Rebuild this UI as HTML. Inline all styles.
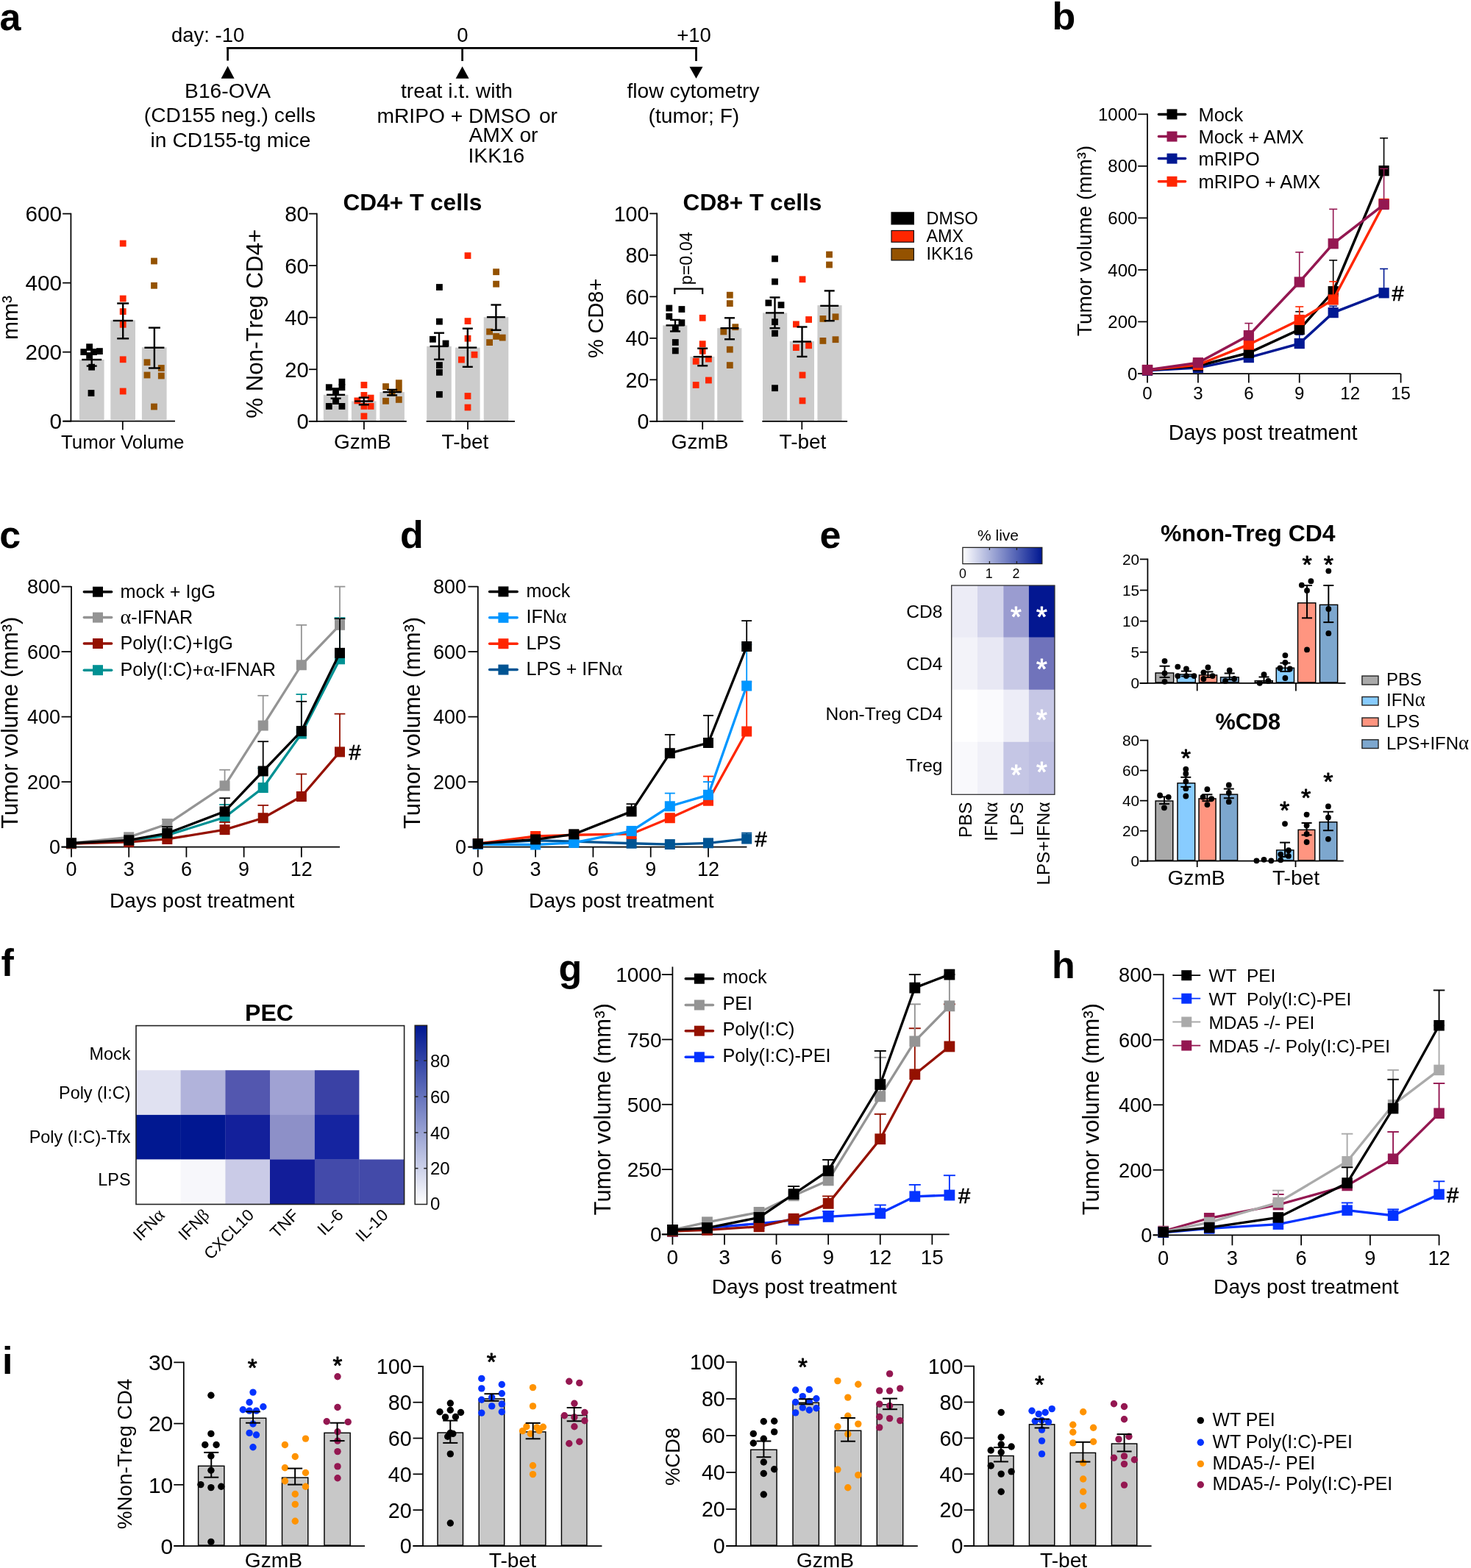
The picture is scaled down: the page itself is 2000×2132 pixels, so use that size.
<!DOCTYPE html>
<html><head><meta charset="utf-8"><title>Figure</title>
<style>
html,body{margin:0;padding:0;background:#fff;}
body{width:2000px;height:2132px;overflow:hidden;}
svg{display:block;}
text{font-family:'Liberation Sans', Arial, Helvetica, sans-serif;}
</style></head>
<body>
<svg width="2000" height="2132" viewBox="0 0 2000 2132">
<rect x="0" y="0" width="2000" height="2132" fill="#fff"/>
<text x="-0.5" y="40.5" font-size="52" font-weight="bold">a</text>
<text x="1430.6" y="39.9" font-size="52" font-weight="bold">b</text>
<text x="-0.8" y="745.2" font-size="52" font-weight="bold">c</text>
<text x="544" y="745.4" font-size="52" font-weight="bold">d</text>
<text x="1114.4" y="745.4" font-size="52" font-weight="bold">e</text>
<text x="1.6" y="1327" font-size="52" font-weight="bold">f</text>
<text x="759.4" y="1334.4" font-size="52" font-weight="bold">g</text>
<text x="1429.9" y="1330.4" font-size="52" font-weight="bold">h</text>
<text x="3" y="1868" font-size="52" font-weight="bold">i</text>
<text x="233" y="56.8" font-size="27.5">day: -10</text>
<text x="629" y="56.5" font-size="27.5" text-anchor="middle">0</text>
<text x="943.5" y="56.5" font-size="27.5" text-anchor="middle">+10</text>
<line x1="308.3" y1="65.3" x2="947.8" y2="65.3" stroke="#000" stroke-width="2.7"/>
<line x1="309.6" y1="64" x2="309.6" y2="82.5" stroke="#000" stroke-width="2.7"/>
<line x1="628.6" y1="64" x2="628.6" y2="83" stroke="#000" stroke-width="2.7"/>
<line x1="946.5" y1="64" x2="946.5" y2="83" stroke="#000" stroke-width="2.7"/>
<polygon points="300.6,106.7 318.6,106.7 309.6,89.8" fill="#000"/>
<polygon points="619.6,106.8 637.6,106.8 628.6,90.3" fill="#000"/>
<polygon points="937.5,90.7 955.5,90.7 946.5,106.8" fill="#000"/>
<text x="309.6" y="132.7" font-size="28.2" text-anchor="middle">B16-OVA</text>
<text x="312.5" y="166.2" font-size="28.2" text-anchor="middle">(CD155 neg.) cells</text>
<text x="313.5" y="199.7" font-size="28.2" text-anchor="middle">in CD155-tg mice</text>
<text x="621" y="132.6" font-size="28.2" text-anchor="middle">treat i.t. with</text>
<text x="512.5" y="166.7" font-size="28.2">mRIPO + DMSO</text>
<text x="758" y="166.7" font-size="28.2" text-anchor="end">or</text>
<text x="637.5" y="193.2" font-size="28.2">AMX or</text>
<text x="636.5" y="221.4" font-size="28.2">IKK16</text>
<text x="942.5" y="132.6" font-size="28.2" text-anchor="middle">flow cytometry</text>
<text x="943.4" y="166.7" font-size="28.2" text-anchor="middle">(tumor; F)</text>
<line x1="96.4" y1="289.73" x2="96.4" y2="573.58" stroke="#000" stroke-width="1.75"/>
<line x1="85.1" y1="572.7" x2="96.4" y2="572.7" stroke="#000" stroke-width="1.75"/>
<text x="84.07" y="583.39" font-size="29.7" text-anchor="end">0</text>
<line x1="85.1" y1="478.67" x2="96.4" y2="478.67" stroke="#000" stroke-width="1.75"/>
<text x="84.07" y="489.36" font-size="29.7" text-anchor="end">200</text>
<line x1="85.1" y1="384.63" x2="96.4" y2="384.63" stroke="#000" stroke-width="1.75"/>
<text x="84.07" y="395.33" font-size="29.7" text-anchor="end">400</text>
<line x1="85.1" y1="290.6" x2="96.4" y2="290.6" stroke="#000" stroke-width="1.75"/>
<text x="84.07" y="301.29" font-size="29.7" text-anchor="end">600</text>
<line x1="85.7" y1="572.7" x2="238" y2="572.7" stroke="#000" stroke-width="1.75"/>
<line x1="166.8" y1="572.7" x2="166.8" y2="584.5" stroke="#000" stroke-width="1.75"/>
<text x="166.7" y="610" font-size="25.9" text-anchor="middle">Tumor Volume</text>
<text x="23.5" y="432" font-size="30" text-anchor="middle" transform="rotate(-90 23.5 432)">mm³</text>
<rect x="107.9" y="489" width="33.7" height="82.83" fill="#CCCCCC"/>
<rect x="150.3" y="435.4" width="33.7" height="136.43" fill="#CCCCCC"/>
<rect x="192.9" y="472.3" width="33.7" height="99.53" fill="#CCCCCC"/>
<rect x="119.6" y="530.1" width="8.8" height="8.8" fill="#000000"/>
<rect x="117.2" y="467.3" width="8.8" height="8.8" fill="#000000"/>
<rect x="109.4" y="474.2" width="8.8" height="8.8" fill="#000000"/>
<rect x="131" y="473.2" width="8.8" height="8.8" fill="#000000"/>
<rect x="123.1" y="474.2" width="8.8" height="8.8" fill="#000000"/>
<rect x="120.2" y="494.8" width="8.8" height="8.8" fill="#000000"/>
<rect x="117.2" y="479.1" width="8.8" height="8.8" fill="#000000"/>
<rect x="162.8" y="326.6" width="8.8" height="8.8" fill="#FF2600"/>
<rect x="162.8" y="401.6" width="8.8" height="8.8" fill="#FF2600"/>
<rect x="162.8" y="419.2" width="8.8" height="8.8" fill="#FF2600"/>
<rect x="162.8" y="436.9" width="8.8" height="8.8" fill="#FF2600"/>
<rect x="162.8" y="484.4" width="8.8" height="8.8" fill="#FF2600"/>
<rect x="162.8" y="527.6" width="8.8" height="8.8" fill="#FF2600"/>
<rect x="205.1" y="350.6" width="8.8" height="8.8" fill="#945200"/>
<rect x="205.1" y="383.9" width="8.8" height="8.8" fill="#945200"/>
<rect x="195.6" y="488.3" width="8.8" height="8.8" fill="#945200"/>
<rect x="214.9" y="496.1" width="8.8" height="8.8" fill="#945200"/>
<rect x="195.6" y="505.6" width="8.8" height="8.8" fill="#945200"/>
<rect x="214.9" y="506.6" width="8.8" height="8.8" fill="#945200"/>
<rect x="205.1" y="548.6" width="8.8" height="8.8" fill="#945200"/>
<line x1="124.7" y1="475.6" x2="124.7" y2="497.6" stroke="#000" stroke-width="2.4"/>
<line x1="117.7" y1="475.6" x2="131.7" y2="475.6" stroke="#000" stroke-width="2.4"/>
<line x1="117.7" y1="497.6" x2="131.7" y2="497.6" stroke="#000" stroke-width="2.4"/>
<line x1="111.2" y1="489" x2="138.2" y2="489" stroke="#000" stroke-width="2.4"/>
<line x1="167.2" y1="412.5" x2="167.2" y2="460.3" stroke="#000" stroke-width="2.4"/>
<line x1="159.2" y1="412.5" x2="175.2" y2="412.5" stroke="#000" stroke-width="2.4"/>
<line x1="159.2" y1="460.3" x2="175.2" y2="460.3" stroke="#000" stroke-width="2.4"/>
<line x1="153.7" y1="436" x2="180.7" y2="436" stroke="#000" stroke-width="2.4"/>
<line x1="209.9" y1="445.6" x2="209.9" y2="500.5" stroke="#000" stroke-width="2.4"/>
<line x1="201.9" y1="445.6" x2="217.9" y2="445.6" stroke="#000" stroke-width="2.4"/>
<line x1="201.9" y1="500.5" x2="217.9" y2="500.5" stroke="#000" stroke-width="2.4"/>
<line x1="196.4" y1="472.7" x2="223.4" y2="472.7" stroke="#000" stroke-width="2.4"/>
<line x1="430.8" y1="289.73" x2="430.8" y2="573.67" stroke="#000" stroke-width="1.75"/>
<line x1="420.1" y1="572.8" x2="430.8" y2="572.8" stroke="#000" stroke-width="1.75"/>
<text x="419.64" y="583.31" font-size="29.2" text-anchor="end">0</text>
<line x1="420.1" y1="502.25" x2="430.8" y2="502.25" stroke="#000" stroke-width="1.75"/>
<text x="419.64" y="512.76" font-size="29.2" text-anchor="end">20</text>
<line x1="420.1" y1="431.7" x2="430.8" y2="431.7" stroke="#000" stroke-width="1.75"/>
<text x="419.64" y="442.21" font-size="29.2" text-anchor="end">40</text>
<line x1="420.1" y1="361.15" x2="430.8" y2="361.15" stroke="#000" stroke-width="1.75"/>
<text x="419.64" y="371.66" font-size="29.2" text-anchor="end">60</text>
<line x1="420.1" y1="290.6" x2="430.8" y2="290.6" stroke="#000" stroke-width="1.75"/>
<text x="419.64" y="301.11" font-size="29.2" text-anchor="end">80</text>
<line x1="419.8" y1="572.8" x2="552.8" y2="572.8" stroke="#000" stroke-width="1.75"/>
<line x1="579.6" y1="572.8" x2="700" y2="572.8" stroke="#000" stroke-width="1.75"/>
<line x1="494.9" y1="572.8" x2="494.9" y2="584" stroke="#000" stroke-width="1.75"/>
<line x1="636" y1="572.8" x2="636" y2="584" stroke="#000" stroke-width="1.75"/>
<text x="492.9" y="610.3" font-size="28" text-anchor="middle">GzmB</text>
<text x="632.5" y="610.3" font-size="28" text-anchor="middle">T-bet</text>
<text x="560.9" y="286" font-size="31.6" text-anchor="middle" font-weight="bold">CD4+ T cells</text>
<text x="357" y="440.2" font-size="31.3" text-anchor="middle" transform="rotate(-90 357 440.2)">% Non-Treg CD4+</text>
<rect x="439.8" y="536.8" width="33.6" height="35.12" fill="#CCCCCC"/>
<rect x="477.9" y="545.5" width="33.6" height="26.42" fill="#CCCCCC"/>
<rect x="516.3" y="533.1" width="33.6" height="38.82" fill="#CCCCCC"/>
<rect x="580.2" y="470.9" width="33.6" height="101.02" fill="#CCCCCC"/>
<rect x="619" y="472.6" width="33.6" height="99.32" fill="#CCCCCC"/>
<rect x="657.7" y="431.2" width="33.6" height="140.72" fill="#CCCCCC"/>
<rect x="442.9" y="522.3" width="8.8" height="8.8" fill="#000000"/>
<rect x="460.5" y="514.8" width="8.8" height="8.8" fill="#000000"/>
<rect x="460.5" y="522.3" width="8.8" height="8.8" fill="#000000"/>
<rect x="452.1" y="527.2" width="8.8" height="8.8" fill="#000000"/>
<rect x="452.1" y="541.2" width="8.8" height="8.8" fill="#000000"/>
<rect x="442.9" y="548" width="8.8" height="8.8" fill="#000000"/>
<rect x="460.5" y="548" width="8.8" height="8.8" fill="#000000"/>
<rect x="490.5" y="519.1" width="8.8" height="8.8" fill="#FF2600"/>
<rect x="490.5" y="533" width="8.8" height="8.8" fill="#FF2600"/>
<rect x="481.5" y="540.5" width="8.8" height="8.8" fill="#FF2600"/>
<rect x="499.7" y="536.7" width="8.8" height="8.8" fill="#FF2600"/>
<rect x="499.7" y="548" width="8.8" height="8.8" fill="#FF2600"/>
<rect x="490.5" y="548" width="8.8" height="8.8" fill="#FF2600"/>
<rect x="490.5" y="561.5" width="8.8" height="8.8" fill="#FF2600"/>
<rect x="520.1" y="521.2" width="8.8" height="8.8" fill="#945200"/>
<rect x="537.9" y="516.3" width="8.8" height="8.8" fill="#945200"/>
<rect x="537.9" y="524.9" width="8.8" height="8.8" fill="#945200"/>
<rect x="520.1" y="540.9" width="8.8" height="8.8" fill="#945200"/>
<rect x="537.9" y="539" width="8.8" height="8.8" fill="#945200"/>
<rect x="528.7" y="529.8" width="8.8" height="8.8" fill="#945200"/>
<rect x="593" y="386.1" width="8.8" height="8.8" fill="#000000"/>
<rect x="593" y="432.8" width="8.8" height="8.8" fill="#000000"/>
<rect x="584" y="456.9" width="8.8" height="8.8" fill="#000000"/>
<rect x="601.6" y="462.6" width="8.8" height="8.8" fill="#000000"/>
<rect x="593" y="492.2" width="8.8" height="8.8" fill="#000000"/>
<rect x="593" y="501.9" width="8.8" height="8.8" fill="#000000"/>
<rect x="593" y="531.9" width="8.8" height="8.8" fill="#000000"/>
<rect x="631.6" y="343.2" width="8.8" height="8.8" fill="#FF2600"/>
<rect x="631.6" y="432.2" width="8.8" height="8.8" fill="#FF2600"/>
<rect x="631.6" y="455.8" width="8.8" height="8.8" fill="#FF2600"/>
<rect x="640.6" y="477.9" width="8.8" height="8.8" fill="#FF2600"/>
<rect x="623" y="484.7" width="8.8" height="8.8" fill="#FF2600"/>
<rect x="631.6" y="534.1" width="8.8" height="8.8" fill="#FF2600"/>
<rect x="631.6" y="549.6" width="8.8" height="8.8" fill="#FF2600"/>
<rect x="670.2" y="365.3" width="8.8" height="8.8" fill="#945200"/>
<rect x="670.2" y="381.8" width="8.8" height="8.8" fill="#945200"/>
<rect x="661.2" y="446.6" width="8.8" height="8.8" fill="#945200"/>
<rect x="670.2" y="453" width="8.8" height="8.8" fill="#945200"/>
<rect x="678.8" y="454.7" width="8.8" height="8.8" fill="#945200"/>
<rect x="661.2" y="461.2" width="8.8" height="8.8" fill="#945200"/>
<line x1="456.6" y1="528.8" x2="456.6" y2="541.7" stroke="#000" stroke-width="2.4"/>
<line x1="449.6" y1="528.8" x2="463.6" y2="528.8" stroke="#000" stroke-width="2.4"/>
<line x1="449.6" y1="541.7" x2="463.6" y2="541.7" stroke="#000" stroke-width="2.4"/>
<line x1="444.1" y1="536.8" x2="469.1" y2="536.8" stroke="#000" stroke-width="2.4"/>
<line x1="494.7" y1="540.6" x2="494.7" y2="550.3" stroke="#000" stroke-width="2.4"/>
<line x1="487.7" y1="540.6" x2="501.7" y2="540.6" stroke="#000" stroke-width="2.4"/>
<line x1="487.7" y1="550.3" x2="501.7" y2="550.3" stroke="#000" stroke-width="2.4"/>
<line x1="482.2" y1="545.5" x2="507.2" y2="545.5" stroke="#000" stroke-width="2.4"/>
<line x1="533.1" y1="529.9" x2="533.1" y2="537.4" stroke="#000" stroke-width="2.4"/>
<line x1="526.1" y1="529.9" x2="540.1" y2="529.9" stroke="#000" stroke-width="2.4"/>
<line x1="526.1" y1="537.4" x2="540.1" y2="537.4" stroke="#000" stroke-width="2.4"/>
<line x1="520.6" y1="533.1" x2="545.6" y2="533.1" stroke="#000" stroke-width="2.4"/>
<line x1="597" y1="452.7" x2="597" y2="488.7" stroke="#000" stroke-width="2.4"/>
<line x1="590" y1="452.7" x2="604" y2="452.7" stroke="#000" stroke-width="2.4"/>
<line x1="590" y1="488.7" x2="604" y2="488.7" stroke="#000" stroke-width="2.4"/>
<line x1="584.5" y1="470.9" x2="609.5" y2="470.9" stroke="#000" stroke-width="2.4"/>
<line x1="635.8" y1="446.7" x2="635.8" y2="498.8" stroke="#000" stroke-width="2.4"/>
<line x1="628.8" y1="446.7" x2="642.8" y2="446.7" stroke="#000" stroke-width="2.4"/>
<line x1="628.8" y1="498.8" x2="642.8" y2="498.8" stroke="#000" stroke-width="2.4"/>
<line x1="623.3" y1="472.6" x2="648.3" y2="472.6" stroke="#000" stroke-width="2.4"/>
<line x1="674.4" y1="414.5" x2="674.4" y2="448.8" stroke="#000" stroke-width="2.4"/>
<line x1="667.4" y1="414.5" x2="681.4" y2="414.5" stroke="#000" stroke-width="2.4"/>
<line x1="667.4" y1="448.8" x2="681.4" y2="448.8" stroke="#000" stroke-width="2.4"/>
<line x1="661.9" y1="431.2" x2="686.9" y2="431.2" stroke="#000" stroke-width="2.4"/>
<line x1="893.2" y1="289.52" x2="893.2" y2="573.67" stroke="#000" stroke-width="1.75"/>
<line x1="883.2" y1="572.8" x2="893.2" y2="572.8" stroke="#000" stroke-width="1.75"/>
<text x="882.42" y="583.1" font-size="28.6" text-anchor="end">0</text>
<line x1="883.2" y1="516.32" x2="893.2" y2="516.32" stroke="#000" stroke-width="1.75"/>
<text x="882.42" y="526.62" font-size="28.6" text-anchor="end">20</text>
<line x1="883.2" y1="459.84" x2="893.2" y2="459.84" stroke="#000" stroke-width="1.75"/>
<text x="882.42" y="470.14" font-size="28.6" text-anchor="end">40</text>
<line x1="883.2" y1="403.36" x2="893.2" y2="403.36" stroke="#000" stroke-width="1.75"/>
<text x="882.42" y="413.66" font-size="28.6" text-anchor="end">60</text>
<line x1="883.2" y1="346.88" x2="893.2" y2="346.88" stroke="#000" stroke-width="1.75"/>
<text x="882.42" y="357.18" font-size="28.6" text-anchor="end">80</text>
<line x1="883.2" y1="290.4" x2="893.2" y2="290.4" stroke="#000" stroke-width="1.75"/>
<text x="882.42" y="300.7" font-size="28.6" text-anchor="end">100</text>
<line x1="883.6" y1="572.8" x2="1010.6" y2="572.8" stroke="#000" stroke-width="1.75"/>
<line x1="1036.3" y1="572.8" x2="1152.1" y2="572.8" stroke="#000" stroke-width="1.75"/>
<line x1="955.2" y1="572.8" x2="955.2" y2="584" stroke="#000" stroke-width="1.75"/>
<line x1="1090.3" y1="572.8" x2="1090.3" y2="584" stroke="#000" stroke-width="1.75"/>
<text x="951.5" y="610.3" font-size="28" text-anchor="middle">GzmB</text>
<text x="1091.5" y="610.3" font-size="28" text-anchor="middle">T-bet</text>
<text x="1023" y="286" font-size="31.6" text-anchor="middle" font-weight="bold">CD8+ T cells</text>
<text x="820.5" y="432.9" font-size="28.9" text-anchor="middle" transform="rotate(-90 820.5 432.9)">% CD8+</text>
<rect x="901.2" y="442.4" width="33.2" height="129.52" fill="#CCCCCC"/>
<rect x="938.3" y="484.9" width="33.2" height="87.02" fill="#CCCCCC"/>
<rect x="975.2" y="446.2" width="33.2" height="125.72" fill="#CCCCCC"/>
<rect x="1037" y="425.4" width="33.2" height="146.52" fill="#CCCCCC"/>
<rect x="1073.8" y="464" width="33.2" height="107.92" fill="#CCCCCC"/>
<rect x="1111.4" y="415.1" width="33.2" height="156.82" fill="#CCCCCC"/>
<rect x="905.4" y="414.6" width="8.8" height="8.8" fill="#000000"/>
<rect x="922.5" y="416.1" width="8.8" height="8.8" fill="#000000"/>
<rect x="905.4" y="425.8" width="8.8" height="8.8" fill="#000000"/>
<rect x="922.5" y="434.3" width="8.8" height="8.8" fill="#000000"/>
<rect x="913.9" y="441.8" width="8.8" height="8.8" fill="#000000"/>
<rect x="913.9" y="461.1" width="8.8" height="8.8" fill="#000000"/>
<rect x="913.9" y="472.5" width="8.8" height="8.8" fill="#000000"/>
<rect x="950.8" y="427.9" width="8.8" height="8.8" fill="#FF2600"/>
<rect x="950.8" y="463.3" width="8.8" height="8.8" fill="#FF2600"/>
<rect x="950.8" y="472.9" width="8.8" height="8.8" fill="#FF2600"/>
<rect x="941.8" y="486.9" width="8.8" height="8.8" fill="#FF2600"/>
<rect x="959" y="483.7" width="8.8" height="8.8" fill="#FF2600"/>
<rect x="941.8" y="519.1" width="8.8" height="8.8" fill="#FF2600"/>
<rect x="959" y="512.6" width="8.8" height="8.8" fill="#FF2600"/>
<rect x="987.9" y="396.8" width="8.8" height="8.8" fill="#945200"/>
<rect x="987.9" y="408.2" width="8.8" height="8.8" fill="#945200"/>
<rect x="995.4" y="440.3" width="8.8" height="8.8" fill="#945200"/>
<rect x="979.4" y="446.6" width="8.8" height="8.8" fill="#945200"/>
<rect x="987.9" y="470.8" width="8.8" height="8.8" fill="#945200"/>
<rect x="987.9" y="492.2" width="8.8" height="8.8" fill="#945200"/>
<rect x="1049.1" y="347.5" width="8.8" height="8.8" fill="#000000"/>
<rect x="1049.1" y="378.6" width="8.8" height="8.8" fill="#000000"/>
<rect x="1040.5" y="407.5" width="8.8" height="8.8" fill="#000000"/>
<rect x="1057.6" y="410.3" width="8.8" height="8.8" fill="#000000"/>
<rect x="1049.1" y="433.3" width="8.8" height="8.8" fill="#000000"/>
<rect x="1049.1" y="448.9" width="8.8" height="8.8" fill="#000000"/>
<rect x="1049.1" y="523.3" width="8.8" height="8.8" fill="#000000"/>
<rect x="1086.6" y="375.4" width="8.8" height="8.8" fill="#FF2600"/>
<rect x="1078" y="436.5" width="8.8" height="8.8" fill="#FF2600"/>
<rect x="1095.2" y="430.1" width="8.8" height="8.8" fill="#FF2600"/>
<rect x="1078" y="468.2" width="8.8" height="8.8" fill="#FF2600"/>
<rect x="1095.2" y="465.4" width="8.8" height="8.8" fill="#FF2600"/>
<rect x="1086.6" y="505.6" width="8.8" height="8.8" fill="#FF2600"/>
<rect x="1086.6" y="540.5" width="8.8" height="8.8" fill="#FF2600"/>
<rect x="1123.1" y="341.7" width="8.8" height="8.8" fill="#945200"/>
<rect x="1123.1" y="355.6" width="8.8" height="8.8" fill="#945200"/>
<rect x="1114.5" y="429" width="8.8" height="8.8" fill="#945200"/>
<rect x="1131.6" y="426.4" width="8.8" height="8.8" fill="#945200"/>
<rect x="1114.5" y="459" width="8.8" height="8.8" fill="#945200"/>
<rect x="1131.6" y="457.3" width="8.8" height="8.8" fill="#945200"/>
<line x1="918" y1="434.9" x2="918" y2="450.5" stroke="#000" stroke-width="2.4"/>
<line x1="911" y1="434.9" x2="925" y2="434.9" stroke="#000" stroke-width="2.4"/>
<line x1="911" y1="450.5" x2="925" y2="450.5" stroke="#000" stroke-width="2.4"/>
<line x1="905.5" y1="442.4" x2="930.5" y2="442.4" stroke="#000" stroke-width="2.4"/>
<line x1="955.2" y1="473.7" x2="955.2" y2="497.3" stroke="#000" stroke-width="2.4"/>
<line x1="948.2" y1="473.7" x2="962.2" y2="473.7" stroke="#000" stroke-width="2.4"/>
<line x1="948.2" y1="497.3" x2="962.2" y2="497.3" stroke="#000" stroke-width="2.4"/>
<line x1="942.7" y1="485.1" x2="967.7" y2="485.1" stroke="#000" stroke-width="2.4"/>
<line x1="992" y1="432.3" x2="992" y2="461.3" stroke="#000" stroke-width="2.4"/>
<line x1="985" y1="432.3" x2="999" y2="432.3" stroke="#000" stroke-width="2.4"/>
<line x1="985" y1="461.3" x2="999" y2="461.3" stroke="#000" stroke-width="2.4"/>
<line x1="979.5" y1="446.2" x2="1004.5" y2="446.2" stroke="#000" stroke-width="2.4"/>
<line x1="1053.5" y1="404.4" x2="1053.5" y2="446.2" stroke="#000" stroke-width="2.4"/>
<line x1="1046.5" y1="404.4" x2="1060.5" y2="404.4" stroke="#000" stroke-width="2.4"/>
<line x1="1046.5" y1="446.2" x2="1060.5" y2="446.2" stroke="#000" stroke-width="2.4"/>
<line x1="1041" y1="425.4" x2="1066" y2="425.4" stroke="#000" stroke-width="2.4"/>
<line x1="1090.5" y1="444.5" x2="1090.5" y2="484.9" stroke="#000" stroke-width="2.4"/>
<line x1="1083.5" y1="444.5" x2="1097.5" y2="444.5" stroke="#000" stroke-width="2.4"/>
<line x1="1083.5" y1="484.9" x2="1097.5" y2="484.9" stroke="#000" stroke-width="2.4"/>
<line x1="1078" y1="464.5" x2="1103" y2="464.5" stroke="#000" stroke-width="2.4"/>
<line x1="1127.7" y1="395.4" x2="1127.7" y2="436.2" stroke="#000" stroke-width="2.4"/>
<line x1="1120.7" y1="395.4" x2="1134.7" y2="395.4" stroke="#000" stroke-width="2.4"/>
<line x1="1120.7" y1="436.2" x2="1134.7" y2="436.2" stroke="#000" stroke-width="2.4"/>
<line x1="1115.2" y1="415.8" x2="1140.2" y2="415.8" stroke="#000" stroke-width="2.4"/>
<polyline points="917.3,400 917.3,392.6 955.2,392.6 955.2,400" fill="none" stroke="#000" stroke-width="2.2" stroke-linejoin="miter"/>
<text x="941" y="351.3" font-size="23.3" text-anchor="middle" transform="rotate(-90 941 351.3)">p=0.04</text>
<rect x="1212" y="288.8" width="30.4" height="16.2" fill="#000000" stroke="#111" stroke-width="1.2"/>
<rect x="1212" y="313.5" width="30.4" height="15.7" fill="#FF2600" stroke="#111" stroke-width="1.2"/>
<rect x="1212" y="337.8" width="30.4" height="16.1" fill="#945200" stroke="#111" stroke-width="1.2"/>
<text x="1259.5" y="304.9" font-size="23.4">DMSO</text>
<text x="1259.5" y="329.2" font-size="23.4">AMX</text>
<text x="1259.5" y="353.4" font-size="23.4">IKK16</text>
<line x1="1560" y1="154.43" x2="1560" y2="508.88" stroke="#000" stroke-width="1.75"/>
<line x1="1547.2" y1="508" x2="1560" y2="508" stroke="#000" stroke-width="1.75"/>
<text x="1546.4" y="516.64" font-size="24" text-anchor="end">0</text>
<line x1="1547.2" y1="437.46" x2="1560" y2="437.46" stroke="#000" stroke-width="1.75"/>
<text x="1546.4" y="446.1" font-size="24" text-anchor="end">200</text>
<line x1="1547.2" y1="366.92" x2="1560" y2="366.92" stroke="#000" stroke-width="1.75"/>
<text x="1546.4" y="375.56" font-size="24" text-anchor="end">400</text>
<line x1="1547.2" y1="296.38" x2="1560" y2="296.38" stroke="#000" stroke-width="1.75"/>
<text x="1546.4" y="305.02" font-size="24" text-anchor="end">600</text>
<line x1="1547.2" y1="225.84" x2="1560" y2="225.84" stroke="#000" stroke-width="1.75"/>
<text x="1546.4" y="234.48" font-size="24" text-anchor="end">800</text>
<line x1="1547.2" y1="155.3" x2="1560" y2="155.3" stroke="#000" stroke-width="1.75"/>
<text x="1546.4" y="163.94" font-size="24" text-anchor="end">1000</text>
<line x1="1547.2" y1="508" x2="1904.5" y2="508" stroke="#000" stroke-width="1.75"/>
<line x1="1560" y1="508" x2="1560" y2="520.5" stroke="#000" stroke-width="1.75"/>
<text x="1560" y="543.28" font-size="24" text-anchor="middle">0</text>
<line x1="1628.91" y1="508" x2="1628.91" y2="520.5" stroke="#000" stroke-width="1.75"/>
<text x="1628.91" y="543.28" font-size="24" text-anchor="middle">3</text>
<line x1="1697.82" y1="508" x2="1697.82" y2="520.5" stroke="#000" stroke-width="1.75"/>
<text x="1697.82" y="543.28" font-size="24" text-anchor="middle">6</text>
<line x1="1766.73" y1="508" x2="1766.73" y2="520.5" stroke="#000" stroke-width="1.75"/>
<text x="1766.73" y="543.28" font-size="24" text-anchor="middle">9</text>
<line x1="1835.64" y1="508" x2="1835.64" y2="520.5" stroke="#000" stroke-width="1.75"/>
<text x="1835.64" y="543.28" font-size="24" text-anchor="middle">12</text>
<line x1="1904.55" y1="508" x2="1904.55" y2="520.5" stroke="#000" stroke-width="1.75"/>
<text x="1904.55" y="543.28" font-size="24" text-anchor="middle">15</text>
<line x1="1766.73" y1="455.1" x2="1766.73" y2="467.09" stroke="#011993" stroke-width="1.6"/>
<line x1="1761.23" y1="455.1" x2="1772.23" y2="455.1" stroke="#011993" stroke-width="1.6"/>
<line x1="1812.67" y1="416.3" x2="1812.67" y2="425.12" stroke="#011993" stroke-width="1.6"/>
<line x1="1807.17" y1="416.3" x2="1818.17" y2="416.3" stroke="#011993" stroke-width="1.6"/>
<line x1="1881.58" y1="365.51" x2="1881.58" y2="398.31" stroke="#011993" stroke-width="1.6"/>
<line x1="1876.08" y1="365.51" x2="1887.08" y2="365.51" stroke="#011993" stroke-width="1.6"/>
<polyline points="1560,503.77 1628.91,499.89 1697.82,486.13 1766.73,467.09 1812.67,425.12 1881.58,398.31" fill="none" stroke="#011993" stroke-width="3.5" stroke-linejoin="miter"/>
<rect x="1552.9" y="496.67" width="14.2" height="14.2" fill="#011993"/>
<rect x="1621.81" y="492.79" width="14.2" height="14.2" fill="#011993"/>
<rect x="1690.72" y="479.03" width="14.2" height="14.2" fill="#011993"/>
<rect x="1759.63" y="459.99" width="14.2" height="14.2" fill="#011993"/>
<rect x="1805.57" y="418.02" width="14.2" height="14.2" fill="#011993"/>
<rect x="1874.48" y="391.21" width="14.2" height="14.2" fill="#011993"/>
<line x1="1766.73" y1="423.7" x2="1766.73" y2="448.04" stroke="#000000" stroke-width="1.6"/>
<line x1="1761.23" y1="423.7" x2="1772.23" y2="423.7" stroke="#000000" stroke-width="1.6"/>
<line x1="1812.67" y1="353.87" x2="1812.67" y2="396.19" stroke="#000000" stroke-width="1.6"/>
<line x1="1807.17" y1="353.87" x2="1818.17" y2="353.87" stroke="#000000" stroke-width="1.6"/>
<line x1="1881.58" y1="187.75" x2="1881.58" y2="232.19" stroke="#000000" stroke-width="1.6"/>
<line x1="1876.08" y1="187.75" x2="1887.08" y2="187.75" stroke="#000000" stroke-width="1.6"/>
<polyline points="1560,503.06 1628.91,497.42 1697.82,479.78 1766.73,448.04 1812.67,396.19 1881.58,232.19" fill="none" stroke="#000000" stroke-width="3.5" stroke-linejoin="miter"/>
<rect x="1552.9" y="495.96" width="14.2" height="14.2" fill="#000000"/>
<rect x="1621.81" y="490.32" width="14.2" height="14.2" fill="#000000"/>
<rect x="1690.72" y="472.68" width="14.2" height="14.2" fill="#000000"/>
<rect x="1759.63" y="440.94" width="14.2" height="14.2" fill="#000000"/>
<rect x="1805.57" y="389.09" width="14.2" height="14.2" fill="#000000"/>
<rect x="1874.48" y="225.09" width="14.2" height="14.2" fill="#000000"/>
<line x1="1766.73" y1="417" x2="1766.73" y2="434.99" stroke="#FF2600" stroke-width="1.6"/>
<line x1="1761.23" y1="417" x2="1772.23" y2="417" stroke="#FF2600" stroke-width="1.6"/>
<line x1="1812.67" y1="382.79" x2="1812.67" y2="407.48" stroke="#FF2600" stroke-width="1.6"/>
<line x1="1807.17" y1="382.79" x2="1818.17" y2="382.79" stroke="#FF2600" stroke-width="1.6"/>
<polyline points="1560,503.06 1628.91,496.01 1697.82,468.5 1766.73,434.99 1812.67,407.48 1881.58,276.98" fill="none" stroke="#FF2600" stroke-width="3.5" stroke-linejoin="miter"/>
<rect x="1552.9" y="495.96" width="14.2" height="14.2" fill="#FF2600"/>
<rect x="1621.81" y="488.91" width="14.2" height="14.2" fill="#FF2600"/>
<rect x="1690.72" y="461.4" width="14.2" height="14.2" fill="#FF2600"/>
<rect x="1759.63" y="427.89" width="14.2" height="14.2" fill="#FF2600"/>
<rect x="1805.57" y="400.38" width="14.2" height="14.2" fill="#FF2600"/>
<rect x="1874.48" y="269.88" width="14.2" height="14.2" fill="#FF2600"/>
<line x1="1628.91" y1="487.9" x2="1628.91" y2="493.19" stroke="#941751" stroke-width="1.6"/>
<line x1="1623.41" y1="487.9" x2="1634.41" y2="487.9" stroke="#941751" stroke-width="1.6"/>
<line x1="1697.82" y1="439.58" x2="1697.82" y2="456.15" stroke="#941751" stroke-width="1.6"/>
<line x1="1692.32" y1="439.58" x2="1703.32" y2="439.58" stroke="#941751" stroke-width="1.6"/>
<line x1="1766.73" y1="342.94" x2="1766.73" y2="383.5" stroke="#941751" stroke-width="1.6"/>
<line x1="1761.23" y1="342.94" x2="1772.23" y2="342.94" stroke="#941751" stroke-width="1.6"/>
<line x1="1812.67" y1="284.39" x2="1812.67" y2="331.3" stroke="#941751" stroke-width="1.6"/>
<line x1="1807.17" y1="284.39" x2="1818.17" y2="284.39" stroke="#941751" stroke-width="1.6"/>
<line x1="1881.58" y1="229.37" x2="1881.58" y2="278.04" stroke="#941751" stroke-width="1.6"/>
<line x1="1876.08" y1="229.37" x2="1887.08" y2="229.37" stroke="#941751" stroke-width="1.6"/>
<polyline points="1560,503.06 1628.91,493.19 1697.82,456.15 1766.73,383.5 1812.67,331.3 1881.58,278.04" fill="none" stroke="#941751" stroke-width="3.5" stroke-linejoin="miter"/>
<rect x="1552.9" y="495.96" width="14.2" height="14.2" fill="#941751"/>
<rect x="1621.81" y="486.09" width="14.2" height="14.2" fill="#941751"/>
<rect x="1690.72" y="449.05" width="14.2" height="14.2" fill="#941751"/>
<rect x="1759.63" y="376.4" width="14.2" height="14.2" fill="#941751"/>
<rect x="1805.57" y="324.2" width="14.2" height="14.2" fill="#941751"/>
<rect x="1874.48" y="270.94" width="14.2" height="14.2" fill="#941751"/>
<line x1="1575.45" y1="155.4" x2="1611.55" y2="155.4" stroke="#000000" stroke-width="3.5" stroke-linecap="round"/>
<rect x="1586.5" y="148.4" width="14" height="14" fill="#000000"/>
<text x="1629.5" y="164.7" font-size="25.4">Mock</text>
<line x1="1575.45" y1="185.6" x2="1611.55" y2="185.6" stroke="#941751" stroke-width="3.5" stroke-linecap="round"/>
<rect x="1586.5" y="178.6" width="14" height="14" fill="#941751"/>
<text x="1629.5" y="194.9" font-size="25.4">Mock + AMX</text>
<line x1="1575.45" y1="215.6" x2="1611.55" y2="215.6" stroke="#011993" stroke-width="3.5" stroke-linecap="round"/>
<rect x="1586.5" y="208.6" width="14" height="14" fill="#011993"/>
<text x="1629.5" y="224.9" font-size="25.4">mRIPO</text>
<line x1="1575.45" y1="246.8" x2="1611.55" y2="246.8" stroke="#FF2600" stroke-width="3.5" stroke-linecap="round"/>
<rect x="1586.5" y="239.8" width="14" height="14" fill="#FF2600"/>
<text x="1629.5" y="256.1" font-size="25.4">mRIPO + AMX</text>
<text x="1717.1" y="597.7" font-size="28.7" text-anchor="middle">Days post treatment</text>
<text x="1483.8" y="327.4" font-size="27.9" text-anchor="middle" transform="rotate(-90 1483.8 327.4)">Tumor volume (mm³)</text>
<text x="1892.5" y="408.5" font-size="29" stroke="#000" stroke-width="0.7">#</text>
<line x1="97" y1="796.92" x2="97" y2="1152.47" stroke="#000" stroke-width="1.75"/>
<line x1="83.6" y1="1151.6" x2="97" y2="1151.6" stroke="#000" stroke-width="1.75"/>
<text x="82.04" y="1161.32" font-size="27" text-anchor="end">0</text>
<line x1="83.6" y1="1063.1" x2="97" y2="1063.1" stroke="#000" stroke-width="1.75"/>
<text x="82.04" y="1072.82" font-size="27" text-anchor="end">200</text>
<line x1="83.6" y1="974.6" x2="97" y2="974.6" stroke="#000" stroke-width="1.75"/>
<text x="82.04" y="984.32" font-size="27" text-anchor="end">400</text>
<line x1="83.6" y1="886.1" x2="97" y2="886.1" stroke="#000" stroke-width="1.75"/>
<text x="82.04" y="895.82" font-size="27" text-anchor="end">600</text>
<line x1="83.6" y1="797.6" x2="97" y2="797.6" stroke="#000" stroke-width="1.75"/>
<text x="82.04" y="807.32" font-size="27" text-anchor="end">800</text>
<line x1="83.6" y1="1151.6" x2="462" y2="1151.6" stroke="#000" stroke-width="1.75"/>
<line x1="97" y1="1151.6" x2="97" y2="1165.6" stroke="#000" stroke-width="1.75"/>
<text x="97" y="1191.33" font-size="27" text-anchor="middle">0</text>
<line x1="175.21" y1="1151.6" x2="175.21" y2="1165.6" stroke="#000" stroke-width="1.75"/>
<text x="175.21" y="1191.33" font-size="27" text-anchor="middle">3</text>
<line x1="253.42" y1="1151.6" x2="253.42" y2="1165.6" stroke="#000" stroke-width="1.75"/>
<text x="253.42" y="1191.33" font-size="27" text-anchor="middle">6</text>
<line x1="331.63" y1="1151.6" x2="331.63" y2="1165.6" stroke="#000" stroke-width="1.75"/>
<text x="331.63" y="1191.33" font-size="27" text-anchor="middle">9</text>
<line x1="409.84" y1="1151.6" x2="409.84" y2="1165.6" stroke="#000" stroke-width="1.75"/>
<text x="409.84" y="1191.33" font-size="27" text-anchor="middle">12</text>
<line x1="305.56" y1="1094.07" x2="305.56" y2="1111.33" stroke="#009193" stroke-width="1.8"/>
<line x1="298.21" y1="1094.07" x2="312.91" y2="1094.07" stroke="#009193" stroke-width="1.8"/>
<line x1="357.7" y1="1044.51" x2="357.7" y2="1071.06" stroke="#009193" stroke-width="1.8"/>
<line x1="350.35" y1="1044.51" x2="365.05" y2="1044.51" stroke="#009193" stroke-width="1.8"/>
<line x1="409.84" y1="944.07" x2="409.84" y2="997.61" stroke="#009193" stroke-width="1.8"/>
<line x1="402.49" y1="944.07" x2="417.19" y2="944.07" stroke="#009193" stroke-width="1.8"/>
<line x1="461.98" y1="840.08" x2="461.98" y2="896.28" stroke="#009193" stroke-width="1.8"/>
<line x1="454.63" y1="840.08" x2="469.33" y2="840.08" stroke="#009193" stroke-width="1.8"/>
<polyline points="97,1147.17 175.21,1143.63 227.35,1135.67 305.56,1111.33 357.7,1071.06 409.84,997.61 461.98,896.28" fill="none" stroke="#009193" stroke-width="3.3" stroke-linejoin="miter"/>
<rect x="90" y="1140.17" width="14" height="14" fill="#009193"/>
<rect x="168.21" y="1136.63" width="14" height="14" fill="#009193"/>
<rect x="220.35" y="1128.67" width="14" height="14" fill="#009193"/>
<rect x="298.56" y="1104.33" width="14" height="14" fill="#009193"/>
<rect x="350.7" y="1064.06" width="14" height="14" fill="#009193"/>
<rect x="402.84" y="990.61" width="14" height="14" fill="#009193"/>
<rect x="454.98" y="889.28" width="14" height="14" fill="#009193"/>
<line x1="305.56" y1="1117.97" x2="305.56" y2="1128.15" stroke="#941100" stroke-width="1.8"/>
<line x1="298.21" y1="1117.97" x2="312.91" y2="1117.97" stroke="#941100" stroke-width="1.8"/>
<line x1="357.7" y1="1094.96" x2="357.7" y2="1112.22" stroke="#941100" stroke-width="1.8"/>
<line x1="350.35" y1="1094.96" x2="365.05" y2="1094.96" stroke="#941100" stroke-width="1.8"/>
<line x1="409.84" y1="1052.48" x2="409.84" y2="1083.01" stroke="#941100" stroke-width="1.8"/>
<line x1="402.49" y1="1052.48" x2="417.19" y2="1052.48" stroke="#941100" stroke-width="1.8"/>
<line x1="461.98" y1="970.62" x2="461.98" y2="1022.39" stroke="#941100" stroke-width="1.8"/>
<line x1="454.63" y1="970.62" x2="469.33" y2="970.62" stroke="#941100" stroke-width="1.8"/>
<polyline points="97,1147.17 175.21,1144.96 227.35,1140.98 305.56,1128.15 357.7,1112.22 409.84,1083.01 461.98,1022.39" fill="none" stroke="#941100" stroke-width="3.3" stroke-linejoin="miter"/>
<rect x="90" y="1140.17" width="14" height="14" fill="#941100"/>
<rect x="168.21" y="1137.96" width="14" height="14" fill="#941100"/>
<rect x="220.35" y="1133.98" width="14" height="14" fill="#941100"/>
<rect x="298.56" y="1121.15" width="14" height="14" fill="#941100"/>
<rect x="350.7" y="1105.22" width="14" height="14" fill="#941100"/>
<rect x="402.84" y="1076.01" width="14" height="14" fill="#941100"/>
<rect x="454.98" y="1015.39" width="14" height="14" fill="#941100"/>
<line x1="227.35" y1="1113.99" x2="227.35" y2="1120.62" stroke="#949494" stroke-width="1.8"/>
<line x1="220" y1="1113.99" x2="234.7" y2="1113.99" stroke="#949494" stroke-width="1.8"/>
<line x1="305.56" y1="1046.73" x2="305.56" y2="1068.41" stroke="#949494" stroke-width="1.8"/>
<line x1="298.21" y1="1046.73" x2="312.91" y2="1046.73" stroke="#949494" stroke-width="1.8"/>
<line x1="357.7" y1="945.84" x2="357.7" y2="986.55" stroke="#949494" stroke-width="1.8"/>
<line x1="350.35" y1="945.84" x2="365.05" y2="945.84" stroke="#949494" stroke-width="1.8"/>
<line x1="409.84" y1="849.81" x2="409.84" y2="904.24" stroke="#949494" stroke-width="1.8"/>
<line x1="402.49" y1="849.81" x2="417.19" y2="849.81" stroke="#949494" stroke-width="1.8"/>
<line x1="461.98" y1="797.6" x2="461.98" y2="849.81" stroke="#949494" stroke-width="1.8"/>
<line x1="454.63" y1="797.6" x2="469.33" y2="797.6" stroke="#949494" stroke-width="1.8"/>
<polyline points="97,1146.29 175.21,1138.32 227.35,1120.62 305.56,1068.41 357.7,986.55 409.84,904.24 461.98,849.81" fill="none" stroke="#949494" stroke-width="3.3" stroke-linejoin="miter"/>
<rect x="90" y="1139.29" width="14" height="14" fill="#949494"/>
<rect x="168.21" y="1131.32" width="14" height="14" fill="#949494"/>
<rect x="220.35" y="1113.62" width="14" height="14" fill="#949494"/>
<rect x="298.56" y="1061.41" width="14" height="14" fill="#949494"/>
<rect x="350.7" y="979.55" width="14" height="14" fill="#949494"/>
<rect x="402.84" y="897.24" width="14" height="14" fill="#949494"/>
<rect x="454.98" y="842.81" width="14" height="14" fill="#949494"/>
<line x1="227.35" y1="1124.16" x2="227.35" y2="1133.01" stroke="#000000" stroke-width="1.8"/>
<line x1="220" y1="1124.16" x2="234.7" y2="1124.16" stroke="#000000" stroke-width="1.8"/>
<line x1="305.56" y1="1085.22" x2="305.56" y2="1103.37" stroke="#000000" stroke-width="1.8"/>
<line x1="298.21" y1="1085.22" x2="312.91" y2="1085.22" stroke="#000000" stroke-width="1.8"/>
<line x1="357.7" y1="1008.23" x2="357.7" y2="1048.5" stroke="#000000" stroke-width="1.8"/>
<line x1="350.35" y1="1008.23" x2="365.05" y2="1008.23" stroke="#000000" stroke-width="1.8"/>
<line x1="409.84" y1="953.8" x2="409.84" y2="994.07" stroke="#000000" stroke-width="1.8"/>
<line x1="402.49" y1="953.8" x2="417.19" y2="953.8" stroke="#000000" stroke-width="1.8"/>
<line x1="461.98" y1="841.41" x2="461.98" y2="887.87" stroke="#000000" stroke-width="1.8"/>
<line x1="454.63" y1="841.41" x2="469.33" y2="841.41" stroke="#000000" stroke-width="1.8"/>
<polyline points="97,1146.29 175.21,1142.31 227.35,1133.01 305.56,1103.37 357.7,1048.5 409.84,994.07 461.98,887.87" fill="none" stroke="#000000" stroke-width="3.3" stroke-linejoin="miter"/>
<rect x="90" y="1139.29" width="14" height="14" fill="#000000"/>
<rect x="168.21" y="1135.31" width="14" height="14" fill="#000000"/>
<rect x="220.35" y="1126.01" width="14" height="14" fill="#000000"/>
<rect x="298.56" y="1096.37" width="14" height="14" fill="#000000"/>
<rect x="350.7" y="1041.5" width="14" height="14" fill="#000000"/>
<rect x="402.84" y="987.07" width="14" height="14" fill="#000000"/>
<rect x="454.98" y="880.87" width="14" height="14" fill="#000000"/>
<line x1="114.35" y1="804.7" x2="151.65" y2="804.7" stroke="#000000" stroke-width="3.5" stroke-linecap="round"/>
<rect x="126" y="797.7" width="14" height="14" fill="#000000"/>
<text x="163.5" y="812.7" font-size="25.2">mock + IgG</text>
<line x1="114.35" y1="839.6" x2="151.65" y2="839.6" stroke="#949494" stroke-width="3.5" stroke-linecap="round"/>
<rect x="126" y="832.6" width="14" height="14" fill="#949494"/>
<text x="163.5" y="847.6" font-size="25.2"><tspan font-family="'Liberation Serif', 'Times New Roman', serif" font-size="1.12em">α</tspan>-IFNAR</text>
<line x1="114.35" y1="875" x2="151.65" y2="875" stroke="#941100" stroke-width="3.5" stroke-linecap="round"/>
<rect x="126" y="868" width="14" height="14" fill="#941100"/>
<text x="163.5" y="883" font-size="25.2">Poly(I:C)+IgG</text>
<line x1="114.35" y1="911.2" x2="151.65" y2="911.2" stroke="#009193" stroke-width="3.5" stroke-linecap="round"/>
<rect x="126" y="904.2" width="14" height="14" fill="#009193"/>
<text x="163.5" y="919.2" font-size="25.2">Poly(I:C)+<tspan font-family="'Liberation Serif', 'Times New Roman', serif" font-size="1.12em">α</tspan>-IFNAR</text>
<text x="274.7" y="1233.5" font-size="28.1" text-anchor="middle">Days post treatment</text>
<text x="24.1" y="982.7" font-size="31" text-anchor="middle" transform="rotate(-90 24.1 982.7)">Tumor volume (mm³)</text>
<text x="474.5" y="1033" font-size="29" stroke="#000" stroke-width="0.7">#</text>
<line x1="649.8" y1="796.92" x2="649.8" y2="1152.47" stroke="#000" stroke-width="1.75"/>
<line x1="636.5" y1="1151.6" x2="649.8" y2="1151.6" stroke="#000" stroke-width="1.75"/>
<text x="633.94" y="1161.32" font-size="27" text-anchor="end">0</text>
<line x1="636.5" y1="1063.1" x2="649.8" y2="1063.1" stroke="#000" stroke-width="1.75"/>
<text x="633.94" y="1072.82" font-size="27" text-anchor="end">200</text>
<line x1="636.5" y1="974.6" x2="649.8" y2="974.6" stroke="#000" stroke-width="1.75"/>
<text x="633.94" y="984.32" font-size="27" text-anchor="end">400</text>
<line x1="636.5" y1="886.1" x2="649.8" y2="886.1" stroke="#000" stroke-width="1.75"/>
<text x="633.94" y="895.82" font-size="27" text-anchor="end">600</text>
<line x1="636.5" y1="797.6" x2="649.8" y2="797.6" stroke="#000" stroke-width="1.75"/>
<text x="633.94" y="807.32" font-size="27" text-anchor="end">800</text>
<line x1="636.5" y1="1151.6" x2="1015.4" y2="1151.6" stroke="#000" stroke-width="1.75"/>
<line x1="649.8" y1="1151.6" x2="649.8" y2="1165.6" stroke="#000" stroke-width="1.75"/>
<text x="649.8" y="1191.33" font-size="27" text-anchor="middle">0</text>
<line x1="728.1" y1="1151.6" x2="728.1" y2="1165.6" stroke="#000" stroke-width="1.75"/>
<text x="728.1" y="1191.33" font-size="27" text-anchor="middle">3</text>
<line x1="806.4" y1="1151.6" x2="806.4" y2="1165.6" stroke="#000" stroke-width="1.75"/>
<text x="806.4" y="1191.33" font-size="27" text-anchor="middle">6</text>
<line x1="884.7" y1="1151.6" x2="884.7" y2="1165.6" stroke="#000" stroke-width="1.75"/>
<text x="884.7" y="1191.33" font-size="27" text-anchor="middle">9</text>
<line x1="963" y1="1151.6" x2="963" y2="1165.6" stroke="#000" stroke-width="1.75"/>
<text x="963" y="1191.33" font-size="27" text-anchor="middle">12</text>
<line x1="1015.2" y1="1132.57" x2="1015.2" y2="1140.54" stroke="#005493" stroke-width="1.8"/>
<line x1="1008.2" y1="1132.57" x2="1022.2" y2="1132.57" stroke="#005493" stroke-width="1.8"/>
<polyline points="649.8,1147.17 728.1,1142.75 780.3,1144.08 858.6,1146.73 910.8,1148.06 963,1146.29 1015.2,1140.54" fill="none" stroke="#005493" stroke-width="3.3" stroke-linejoin="miter"/>
<rect x="642.8" y="1140.17" width="14" height="14" fill="#005493"/>
<rect x="721.1" y="1135.75" width="14" height="14" fill="#005493"/>
<rect x="773.3" y="1137.08" width="14" height="14" fill="#005493"/>
<rect x="851.6" y="1139.73" width="14" height="14" fill="#005493"/>
<rect x="903.8" y="1141.06" width="14" height="14" fill="#005493"/>
<rect x="956" y="1139.29" width="14" height="14" fill="#005493"/>
<rect x="1008.2" y="1133.54" width="14" height="14" fill="#005493"/>
<line x1="728.1" y1="1133.9" x2="728.1" y2="1137" stroke="#FF2600" stroke-width="1.8"/>
<line x1="721.1" y1="1133.9" x2="735.1" y2="1133.9" stroke="#FF2600" stroke-width="1.8"/>
<line x1="780.3" y1="1129.47" x2="780.3" y2="1135.23" stroke="#FF2600" stroke-width="1.8"/>
<line x1="773.3" y1="1129.47" x2="787.3" y2="1129.47" stroke="#FF2600" stroke-width="1.8"/>
<line x1="910.8" y1="1107.35" x2="910.8" y2="1112.22" stroke="#FF2600" stroke-width="1.8"/>
<line x1="903.8" y1="1107.35" x2="917.8" y2="1107.35" stroke="#FF2600" stroke-width="1.8"/>
<line x1="963" y1="1055.58" x2="963" y2="1088.76" stroke="#FF2600" stroke-width="1.8"/>
<line x1="956" y1="1055.58" x2="970" y2="1055.58" stroke="#FF2600" stroke-width="1.8"/>
<line x1="1015.2" y1="926.81" x2="1015.2" y2="994.51" stroke="#FF2600" stroke-width="1.8"/>
<line x1="1008.2" y1="926.81" x2="1022.2" y2="926.81" stroke="#FF2600" stroke-width="1.8"/>
<polyline points="649.8,1147.17 728.1,1137 780.3,1135.23 858.6,1133.9 910.8,1112.22 963,1088.76 1015.2,994.51" fill="none" stroke="#FF2600" stroke-width="3.3" stroke-linejoin="miter"/>
<rect x="642.8" y="1140.17" width="14" height="14" fill="#FF2600"/>
<rect x="721.1" y="1130" width="14" height="14" fill="#FF2600"/>
<rect x="773.3" y="1128.23" width="14" height="14" fill="#FF2600"/>
<rect x="851.6" y="1126.9" width="14" height="14" fill="#FF2600"/>
<rect x="903.8" y="1105.22" width="14" height="14" fill="#FF2600"/>
<rect x="956" y="1081.76" width="14" height="14" fill="#FF2600"/>
<rect x="1008.2" y="987.51" width="14" height="14" fill="#FF2600"/>
<line x1="910.8" y1="1078.59" x2="910.8" y2="1096.29" stroke="#0096FF" stroke-width="1.8"/>
<line x1="903.8" y1="1078.59" x2="917.8" y2="1078.59" stroke="#0096FF" stroke-width="1.8"/>
<line x1="963" y1="1063.1" x2="963" y2="1080.8" stroke="#0096FF" stroke-width="1.8"/>
<line x1="956" y1="1063.1" x2="970" y2="1063.1" stroke="#0096FF" stroke-width="1.8"/>
<line x1="1015.2" y1="876.36" x2="1015.2" y2="932.56" stroke="#0096FF" stroke-width="1.8"/>
<line x1="1008.2" y1="876.36" x2="1022.2" y2="876.36" stroke="#0096FF" stroke-width="1.8"/>
<polyline points="649.8,1148.06 728.1,1148.5 780.3,1145.85 858.6,1129.92 910.8,1096.29 963,1080.8 1015.2,932.56" fill="none" stroke="#0096FF" stroke-width="3.3" stroke-linejoin="miter"/>
<rect x="642.8" y="1141.06" width="14" height="14" fill="#0096FF"/>
<rect x="721.1" y="1141.5" width="14" height="14" fill="#0096FF"/>
<rect x="773.3" y="1138.85" width="14" height="14" fill="#0096FF"/>
<rect x="851.6" y="1122.92" width="14" height="14" fill="#0096FF"/>
<rect x="903.8" y="1089.29" width="14" height="14" fill="#0096FF"/>
<rect x="956" y="1073.8" width="14" height="14" fill="#0096FF"/>
<rect x="1008.2" y="925.56" width="14" height="14" fill="#0096FF"/>
<line x1="858.6" y1="1093.19" x2="858.6" y2="1103.37" stroke="#000000" stroke-width="1.8"/>
<line x1="851.6" y1="1093.19" x2="865.6" y2="1093.19" stroke="#000000" stroke-width="1.8"/>
<line x1="910.8" y1="998.94" x2="910.8" y2="1024.16" stroke="#000000" stroke-width="1.8"/>
<line x1="903.8" y1="998.94" x2="917.8" y2="998.94" stroke="#000000" stroke-width="1.8"/>
<line x1="963" y1="972.83" x2="963" y2="1010" stroke="#000000" stroke-width="1.8"/>
<line x1="956" y1="972.83" x2="970" y2="972.83" stroke="#000000" stroke-width="1.8"/>
<line x1="1015.2" y1="844.06" x2="1015.2" y2="879.02" stroke="#000000" stroke-width="1.8"/>
<line x1="1008.2" y1="844.06" x2="1022.2" y2="844.06" stroke="#000000" stroke-width="1.8"/>
<polyline points="649.8,1147.17 728.1,1141.42 780.3,1134.34 858.6,1103.37 910.8,1024.16 963,1010 1015.2,879.02" fill="none" stroke="#000000" stroke-width="3.3" stroke-linejoin="miter"/>
<rect x="642.8" y="1140.17" width="14" height="14" fill="#000000"/>
<rect x="721.1" y="1134.42" width="14" height="14" fill="#000000"/>
<rect x="773.3" y="1127.34" width="14" height="14" fill="#000000"/>
<rect x="851.6" y="1096.37" width="14" height="14" fill="#000000"/>
<rect x="903.8" y="1017.16" width="14" height="14" fill="#000000"/>
<rect x="956" y="1003" width="14" height="14" fill="#000000"/>
<rect x="1008.2" y="872.02" width="14" height="14" fill="#000000"/>
<line x1="665.65" y1="804.4" x2="703.15" y2="804.4" stroke="#000000" stroke-width="3.5" stroke-linecap="round"/>
<rect x="677.4" y="797.4" width="14" height="14" fill="#000000"/>
<text x="715.5" y="812" font-size="25">mock</text>
<line x1="665.65" y1="839.8" x2="703.15" y2="839.8" stroke="#0096FF" stroke-width="3.5" stroke-linecap="round"/>
<rect x="677.4" y="832.8" width="14" height="14" fill="#0096FF"/>
<text x="715.5" y="847.4" font-size="25">IFN<tspan font-family="'Liberation Serif', 'Times New Roman', serif" font-size="1.12em">α</tspan></text>
<line x1="665.65" y1="875.2" x2="703.15" y2="875.2" stroke="#FF2600" stroke-width="3.5" stroke-linecap="round"/>
<rect x="677.4" y="868.2" width="14" height="14" fill="#FF2600"/>
<text x="715.5" y="882.8" font-size="25">LPS</text>
<line x1="665.65" y1="910.6" x2="703.15" y2="910.6" stroke="#005493" stroke-width="3.5" stroke-linecap="round"/>
<rect x="677.4" y="903.6" width="14" height="14" fill="#005493"/>
<text x="715.5" y="918.2" font-size="25">LPS + IFN<tspan font-family="'Liberation Serif', 'Times New Roman', serif" font-size="1.12em">α</tspan></text>
<text x="844.8" y="1234.3" font-size="28.1" text-anchor="middle">Days post treatment</text>
<text x="571.3" y="982.9" font-size="31" text-anchor="middle" transform="rotate(-90 571.3 982.9)">Tumor volume (mm³)</text>
<text x="1026.5" y="1151" font-size="29" stroke="#000" stroke-width="0.7">#</text>
<line x1="914.4" y1="1314.62" x2="914.4" y2="1679.28" stroke="#000" stroke-width="1.75"/>
<line x1="899.9" y1="1678.4" x2="914.4" y2="1678.4" stroke="#000" stroke-width="1.75"/>
<text x="899.49" y="1688.48" font-size="28" text-anchor="end">0</text>
<line x1="899.9" y1="1590.08" x2="914.4" y2="1590.08" stroke="#000" stroke-width="1.75"/>
<text x="899.49" y="1600.15" font-size="28" text-anchor="end">250</text>
<line x1="899.9" y1="1501.75" x2="914.4" y2="1501.75" stroke="#000" stroke-width="1.75"/>
<text x="899.49" y="1511.83" font-size="28" text-anchor="end">500</text>
<line x1="899.9" y1="1413.43" x2="914.4" y2="1413.43" stroke="#000" stroke-width="1.75"/>
<text x="899.49" y="1423.51" font-size="28" text-anchor="end">750</text>
<line x1="899.9" y1="1325.1" x2="914.4" y2="1325.1" stroke="#000" stroke-width="1.75"/>
<text x="899.49" y="1335.18" font-size="28" text-anchor="end">1000</text>
<line x1="899.9" y1="1678.4" x2="1290.7" y2="1678.4" stroke="#000" stroke-width="1.75"/>
<line x1="914.4" y1="1678.4" x2="914.4" y2="1692.4" stroke="#000" stroke-width="1.75"/>
<text x="914.4" y="1718.85" font-size="28" text-anchor="middle">0</text>
<line x1="984.99" y1="1678.4" x2="984.99" y2="1692.4" stroke="#000" stroke-width="1.75"/>
<text x="984.99" y="1718.85" font-size="28" text-anchor="middle">3</text>
<line x1="1055.58" y1="1678.4" x2="1055.58" y2="1692.4" stroke="#000" stroke-width="1.75"/>
<text x="1055.58" y="1718.85" font-size="28" text-anchor="middle">6</text>
<line x1="1126.17" y1="1678.4" x2="1126.17" y2="1692.4" stroke="#000" stroke-width="1.75"/>
<text x="1126.17" y="1718.85" font-size="28" text-anchor="middle">9</text>
<line x1="1196.76" y1="1678.4" x2="1196.76" y2="1692.4" stroke="#000" stroke-width="1.75"/>
<text x="1196.76" y="1718.85" font-size="28" text-anchor="middle">12</text>
<line x1="1267.35" y1="1678.4" x2="1267.35" y2="1692.4" stroke="#000" stroke-width="1.75"/>
<text x="1267.35" y="1718.85" font-size="28" text-anchor="middle">15</text>
<line x1="1126.17" y1="1646.96" x2="1126.17" y2="1654.38" stroke="#0433FF" stroke-width="1.9"/>
<line x1="1118.17" y1="1646.96" x2="1134.17" y2="1646.96" stroke="#0433FF" stroke-width="1.9"/>
<line x1="1196.76" y1="1638.48" x2="1196.76" y2="1649.78" stroke="#0433FF" stroke-width="1.9"/>
<line x1="1188.76" y1="1638.48" x2="1204.76" y2="1638.48" stroke="#0433FF" stroke-width="1.9"/>
<line x1="1243.82" y1="1610.92" x2="1243.82" y2="1626.82" stroke="#0433FF" stroke-width="1.9"/>
<line x1="1235.82" y1="1610.92" x2="1251.82" y2="1610.92" stroke="#0433FF" stroke-width="1.9"/>
<line x1="1290.88" y1="1598.2" x2="1290.88" y2="1625.05" stroke="#0433FF" stroke-width="1.9"/>
<line x1="1282.88" y1="1598.2" x2="1298.88" y2="1598.2" stroke="#0433FF" stroke-width="1.9"/>
<polyline points="914.4,1674.16 961.46,1669.57 1032.05,1663.56 1079.11,1658.97 1126.17,1654.38 1196.76,1649.78 1243.82,1626.82 1290.88,1625.05" fill="none" stroke="#0433FF" stroke-width="3.3" stroke-linejoin="miter"/>
<rect x="907" y="1666.76" width="14.8" height="14.8" fill="#0433FF"/>
<rect x="954.06" y="1662.17" width="14.8" height="14.8" fill="#0433FF"/>
<rect x="1024.65" y="1656.16" width="14.8" height="14.8" fill="#0433FF"/>
<rect x="1071.71" y="1651.57" width="14.8" height="14.8" fill="#0433FF"/>
<rect x="1118.77" y="1646.98" width="14.8" height="14.8" fill="#0433FF"/>
<rect x="1189.36" y="1642.38" width="14.8" height="14.8" fill="#0433FF"/>
<rect x="1236.42" y="1619.42" width="14.8" height="14.8" fill="#0433FF"/>
<rect x="1283.48" y="1617.65" width="14.8" height="14.8" fill="#0433FF"/>
<line x1="1126.17" y1="1626.46" x2="1126.17" y2="1636.36" stroke="#941100" stroke-width="1.9"/>
<line x1="1118.17" y1="1626.46" x2="1134.17" y2="1626.46" stroke="#941100" stroke-width="1.9"/>
<line x1="1196.76" y1="1514.82" x2="1196.76" y2="1548.74" stroke="#941100" stroke-width="1.9"/>
<line x1="1188.76" y1="1514.82" x2="1204.76" y2="1514.82" stroke="#941100" stroke-width="1.9"/>
<line x1="1243.82" y1="1398.23" x2="1243.82" y2="1460.77" stroke="#941100" stroke-width="1.9"/>
<line x1="1235.82" y1="1398.23" x2="1251.82" y2="1398.23" stroke="#941100" stroke-width="1.9"/>
<line x1="1290.88" y1="1365.38" x2="1290.88" y2="1422.96" stroke="#941100" stroke-width="1.9"/>
<line x1="1282.88" y1="1365.38" x2="1298.88" y2="1365.38" stroke="#941100" stroke-width="1.9"/>
<polyline points="914.4,1674.16 961.46,1672.39 1032.05,1667.8 1079.11,1657.2 1126.17,1636.36 1196.76,1548.74 1243.82,1460.77 1290.88,1422.96" fill="none" stroke="#941100" stroke-width="3.3" stroke-linejoin="miter"/>
<rect x="907" y="1666.76" width="14.8" height="14.8" fill="#941100"/>
<rect x="954.06" y="1664.99" width="14.8" height="14.8" fill="#941100"/>
<rect x="1024.65" y="1660.4" width="14.8" height="14.8" fill="#941100"/>
<rect x="1071.71" y="1649.8" width="14.8" height="14.8" fill="#941100"/>
<rect x="1118.77" y="1628.96" width="14.8" height="14.8" fill="#941100"/>
<rect x="1189.36" y="1541.34" width="14.8" height="14.8" fill="#941100"/>
<rect x="1236.42" y="1453.37" width="14.8" height="14.8" fill="#941100"/>
<rect x="1283.48" y="1415.56" width="14.8" height="14.8" fill="#941100"/>
<line x1="1196.76" y1="1437.8" x2="1196.76" y2="1490.8" stroke="#949494" stroke-width="1.9"/>
<line x1="1188.76" y1="1437.8" x2="1204.76" y2="1437.8" stroke="#949494" stroke-width="1.9"/>
<line x1="1243.82" y1="1365.38" x2="1243.82" y2="1415.9" stroke="#949494" stroke-width="1.9"/>
<line x1="1235.82" y1="1365.38" x2="1251.82" y2="1365.38" stroke="#949494" stroke-width="1.9"/>
<line x1="1290.88" y1="1325.1" x2="1290.88" y2="1367.85" stroke="#949494" stroke-width="1.9"/>
<line x1="1282.88" y1="1325.1" x2="1298.88" y2="1325.1" stroke="#949494" stroke-width="1.9"/>
<polyline points="914.4,1672.39 961.46,1661.79 1032.05,1648.37 1079.11,1625.76 1126.17,1604.91 1196.76,1490.8 1243.82,1415.9 1290.88,1367.85" fill="none" stroke="#949494" stroke-width="3.3" stroke-linejoin="miter"/>
<rect x="907" y="1664.99" width="14.8" height="14.8" fill="#949494"/>
<rect x="954.06" y="1654.39" width="14.8" height="14.8" fill="#949494"/>
<rect x="1024.65" y="1640.97" width="14.8" height="14.8" fill="#949494"/>
<rect x="1071.71" y="1618.36" width="14.8" height="14.8" fill="#949494"/>
<rect x="1118.77" y="1597.51" width="14.8" height="14.8" fill="#949494"/>
<rect x="1189.36" y="1483.4" width="14.8" height="14.8" fill="#949494"/>
<rect x="1236.42" y="1408.5" width="14.8" height="14.8" fill="#949494"/>
<rect x="1283.48" y="1360.45" width="14.8" height="14.8" fill="#949494"/>
<line x1="1079.11" y1="1613.04" x2="1079.11" y2="1623.64" stroke="#000000" stroke-width="1.9"/>
<line x1="1071.11" y1="1613.04" x2="1087.11" y2="1613.04" stroke="#000000" stroke-width="1.9"/>
<line x1="1126.17" y1="1577" x2="1126.17" y2="1591.84" stroke="#000000" stroke-width="1.9"/>
<line x1="1118.17" y1="1577" x2="1134.17" y2="1577" stroke="#000000" stroke-width="1.9"/>
<line x1="1196.76" y1="1428.97" x2="1196.76" y2="1474.55" stroke="#000000" stroke-width="1.9"/>
<line x1="1188.76" y1="1428.97" x2="1204.76" y2="1428.97" stroke="#000000" stroke-width="1.9"/>
<line x1="1243.82" y1="1325.1" x2="1243.82" y2="1343.12" stroke="#000000" stroke-width="1.9"/>
<line x1="1235.82" y1="1325.1" x2="1251.82" y2="1325.1" stroke="#000000" stroke-width="1.9"/>
<polyline points="914.4,1672.39 961.46,1669.57 1032.05,1655.44 1079.11,1623.64 1126.17,1591.84 1196.76,1474.55 1243.82,1343.12 1290.88,1325.1" fill="none" stroke="#000000" stroke-width="3.3" stroke-linejoin="miter"/>
<rect x="907" y="1664.99" width="14.8" height="14.8" fill="#000000"/>
<rect x="954.06" y="1662.17" width="14.8" height="14.8" fill="#000000"/>
<rect x="1024.65" y="1648.04" width="14.8" height="14.8" fill="#000000"/>
<rect x="1071.71" y="1616.24" width="14.8" height="14.8" fill="#000000"/>
<rect x="1118.77" y="1584.44" width="14.8" height="14.8" fill="#000000"/>
<rect x="1189.36" y="1467.15" width="14.8" height="14.8" fill="#000000"/>
<rect x="1236.42" y="1335.72" width="14.8" height="14.8" fill="#000000"/>
<rect x="1283.48" y="1317.7" width="14.8" height="14.8" fill="#000000"/>
<line x1="932.25" y1="1330.7" x2="969.45" y2="1330.7" stroke="#000000" stroke-width="3.5" stroke-linecap="round"/>
<rect x="943.85" y="1323.7" width="14" height="14" fill="#000000"/>
<text x="982.5" y="1337.2" font-size="25.2">mock</text>
<line x1="932.25" y1="1366.5" x2="969.45" y2="1366.5" stroke="#949494" stroke-width="3.5" stroke-linecap="round"/>
<rect x="943.85" y="1359.5" width="14" height="14" fill="#949494"/>
<text x="982.5" y="1373" font-size="25.2">PEI</text>
<line x1="932.25" y1="1401.7" x2="969.45" y2="1401.7" stroke="#941100" stroke-width="3.5" stroke-linecap="round"/>
<rect x="943.85" y="1394.7" width="14" height="14" fill="#941100"/>
<text x="982.5" y="1408.2" font-size="25.2">Poly(I:C)</text>
<line x1="932.25" y1="1437.3" x2="969.45" y2="1437.3" stroke="#0433FF" stroke-width="3.5" stroke-linecap="round"/>
<rect x="943.85" y="1430.3" width="14" height="14" fill="#0433FF"/>
<text x="982.5" y="1443.8" font-size="25.2">Poly(I:C)-PEI</text>
<text x="1093.5" y="1759.3" font-size="28.1" text-anchor="middle">Days post treatment</text>
<text x="830.2" y="1508.3" font-size="31" text-anchor="middle" transform="rotate(-90 830.2 1508.3)">Tumor volume (mm³)</text>
<text x="1303" y="1636.2" font-size="29" stroke="#000" stroke-width="0.7">#</text>
<line x1="1581.7" y1="1324.33" x2="1581.7" y2="1680.17" stroke="#000" stroke-width="1.75"/>
<line x1="1567.7" y1="1679.3" x2="1581.7" y2="1679.3" stroke="#000" stroke-width="1.75"/>
<text x="1566.56" y="1689.13" font-size="27.3" text-anchor="end">0</text>
<line x1="1567.7" y1="1590.78" x2="1581.7" y2="1590.78" stroke="#000" stroke-width="1.75"/>
<text x="1566.56" y="1600.61" font-size="27.3" text-anchor="end">200</text>
<line x1="1567.7" y1="1502.26" x2="1581.7" y2="1502.26" stroke="#000" stroke-width="1.75"/>
<text x="1566.56" y="1512.09" font-size="27.3" text-anchor="end">400</text>
<line x1="1567.7" y1="1413.74" x2="1581.7" y2="1413.74" stroke="#000" stroke-width="1.75"/>
<text x="1566.56" y="1423.57" font-size="27.3" text-anchor="end">600</text>
<line x1="1567.7" y1="1325.22" x2="1581.7" y2="1325.22" stroke="#000" stroke-width="1.75"/>
<text x="1566.56" y="1335.05" font-size="27.3" text-anchor="end">800</text>
<line x1="1567.7" y1="1679.3" x2="1956.5" y2="1679.3" stroke="#000" stroke-width="1.75"/>
<line x1="1581.7" y1="1679.3" x2="1581.7" y2="1693.3" stroke="#000" stroke-width="1.75"/>
<text x="1581.7" y="1719.75" font-size="27.3" text-anchor="middle">0</text>
<line x1="1675.42" y1="1679.3" x2="1675.42" y2="1693.3" stroke="#000" stroke-width="1.75"/>
<text x="1675.42" y="1719.75" font-size="27.3" text-anchor="middle">3</text>
<line x1="1769.14" y1="1679.3" x2="1769.14" y2="1693.3" stroke="#000" stroke-width="1.75"/>
<text x="1769.14" y="1719.75" font-size="27.3" text-anchor="middle">6</text>
<line x1="1862.86" y1="1679.3" x2="1862.86" y2="1693.3" stroke="#000" stroke-width="1.75"/>
<text x="1862.86" y="1719.75" font-size="27.3" text-anchor="middle">9</text>
<line x1="1956.58" y1="1679.3" x2="1956.58" y2="1693.3" stroke="#000" stroke-width="1.75"/>
<text x="1956.58" y="1719.75" font-size="27.3" text-anchor="middle">12</text>
<line x1="1737.9" y1="1623.97" x2="1737.9" y2="1638.14" stroke="#941751" stroke-width="1.9"/>
<line x1="1730.15" y1="1623.97" x2="1745.65" y2="1623.97" stroke="#941751" stroke-width="1.9"/>
<line x1="1894.1" y1="1539" x2="1894.1" y2="1575.73" stroke="#941751" stroke-width="1.9"/>
<line x1="1886.35" y1="1539" x2="1901.85" y2="1539" stroke="#941751" stroke-width="1.9"/>
<line x1="1956.58" y1="1473.05" x2="1956.58" y2="1513.77" stroke="#941751" stroke-width="1.9"/>
<line x1="1948.83" y1="1473.05" x2="1964.33" y2="1473.05" stroke="#941751" stroke-width="1.9"/>
<polyline points="1581.7,1673.99 1644.18,1656.28 1737.9,1638.14 1831.62,1612.02 1894.1,1575.73 1956.58,1513.77" fill="none" stroke="#941751" stroke-width="3.3" stroke-linejoin="miter"/>
<rect x="1574.45" y="1666.74" width="14.5" height="14.5" fill="#941751"/>
<rect x="1636.93" y="1649.03" width="14.5" height="14.5" fill="#941751"/>
<rect x="1730.65" y="1630.89" width="14.5" height="14.5" fill="#941751"/>
<rect x="1824.37" y="1604.77" width="14.5" height="14.5" fill="#941751"/>
<rect x="1886.85" y="1568.48" width="14.5" height="14.5" fill="#941751"/>
<rect x="1949.33" y="1506.52" width="14.5" height="14.5" fill="#941751"/>
<line x1="1737.9" y1="1618.66" x2="1737.9" y2="1635.04" stroke="#AAAAAA" stroke-width="1.9"/>
<line x1="1730.15" y1="1618.66" x2="1745.65" y2="1618.66" stroke="#AAAAAA" stroke-width="1.9"/>
<line x1="1831.62" y1="1541.65" x2="1831.62" y2="1579.27" stroke="#AAAAAA" stroke-width="1.9"/>
<line x1="1823.87" y1="1541.65" x2="1839.37" y2="1541.65" stroke="#AAAAAA" stroke-width="1.9"/>
<line x1="1894.1" y1="1454.9" x2="1894.1" y2="1502.26" stroke="#AAAAAA" stroke-width="1.9"/>
<line x1="1886.35" y1="1454.9" x2="1901.85" y2="1454.9" stroke="#AAAAAA" stroke-width="1.9"/>
<line x1="1956.58" y1="1394.27" x2="1956.58" y2="1454.9" stroke="#AAAAAA" stroke-width="1.9"/>
<line x1="1948.83" y1="1394.27" x2="1964.33" y2="1394.27" stroke="#AAAAAA" stroke-width="1.9"/>
<polyline points="1581.7,1674.87 1644.18,1662.04 1737.9,1635.04 1831.62,1579.27 1894.1,1502.26 1956.58,1454.9" fill="none" stroke="#AAAAAA" stroke-width="3.3" stroke-linejoin="miter"/>
<rect x="1574.45" y="1667.62" width="14.5" height="14.5" fill="#AAAAAA"/>
<rect x="1636.93" y="1654.79" width="14.5" height="14.5" fill="#AAAAAA"/>
<rect x="1730.65" y="1627.79" width="14.5" height="14.5" fill="#AAAAAA"/>
<rect x="1824.37" y="1572.02" width="14.5" height="14.5" fill="#AAAAAA"/>
<rect x="1886.85" y="1495.01" width="14.5" height="14.5" fill="#AAAAAA"/>
<rect x="1949.33" y="1447.65" width="14.5" height="14.5" fill="#AAAAAA"/>
<line x1="1831.62" y1="1635.48" x2="1831.62" y2="1645.66" stroke="#0433FF" stroke-width="1.9"/>
<line x1="1823.87" y1="1635.48" x2="1839.37" y2="1635.48" stroke="#0433FF" stroke-width="1.9"/>
<line x1="1894.1" y1="1644.33" x2="1894.1" y2="1652.74" stroke="#0433FF" stroke-width="1.9"/>
<line x1="1886.35" y1="1644.33" x2="1901.85" y2="1644.33" stroke="#0433FF" stroke-width="1.9"/>
<line x1="1956.58" y1="1606.27" x2="1956.58" y2="1623.97" stroke="#0433FF" stroke-width="1.9"/>
<line x1="1948.83" y1="1606.27" x2="1964.33" y2="1606.27" stroke="#0433FF" stroke-width="1.9"/>
<polyline points="1581.7,1675.76 1644.18,1670.45 1737.9,1664.69 1831.62,1645.66 1894.1,1652.74 1956.58,1623.97" fill="none" stroke="#0433FF" stroke-width="3.3" stroke-linejoin="miter"/>
<rect x="1574.45" y="1668.51" width="14.5" height="14.5" fill="#0433FF"/>
<rect x="1636.93" y="1663.2" width="14.5" height="14.5" fill="#0433FF"/>
<rect x="1730.65" y="1657.44" width="14.5" height="14.5" fill="#0433FF"/>
<rect x="1824.37" y="1638.41" width="14.5" height="14.5" fill="#0433FF"/>
<rect x="1886.85" y="1645.49" width="14.5" height="14.5" fill="#0433FF"/>
<rect x="1949.33" y="1616.72" width="14.5" height="14.5" fill="#0433FF"/>
<line x1="1831.62" y1="1587.24" x2="1831.62" y2="1608.48" stroke="#000000" stroke-width="1.9"/>
<line x1="1823.87" y1="1587.24" x2="1839.37" y2="1587.24" stroke="#000000" stroke-width="1.9"/>
<line x1="1894.1" y1="1467.74" x2="1894.1" y2="1507.13" stroke="#000000" stroke-width="1.9"/>
<line x1="1886.35" y1="1467.74" x2="1901.85" y2="1467.74" stroke="#000000" stroke-width="1.9"/>
<line x1="1956.58" y1="1346.46" x2="1956.58" y2="1394.27" stroke="#000000" stroke-width="1.9"/>
<line x1="1948.83" y1="1346.46" x2="1964.33" y2="1346.46" stroke="#000000" stroke-width="1.9"/>
<polyline points="1581.7,1675.32 1644.18,1669.12 1737.9,1655.4 1831.62,1608.48 1894.1,1507.13 1956.58,1394.27" fill="none" stroke="#000000" stroke-width="3.3" stroke-linejoin="miter"/>
<rect x="1574.45" y="1668.07" width="14.5" height="14.5" fill="#000000"/>
<rect x="1636.93" y="1661.87" width="14.5" height="14.5" fill="#000000"/>
<rect x="1730.65" y="1648.15" width="14.5" height="14.5" fill="#000000"/>
<rect x="1824.37" y="1601.23" width="14.5" height="14.5" fill="#000000"/>
<rect x="1886.85" y="1499.88" width="14.5" height="14.5" fill="#000000"/>
<rect x="1949.33" y="1387.02" width="14.5" height="14.5" fill="#000000"/>
<line x1="1594.3" y1="1326.2" x2="1632.2" y2="1326.2" stroke="#000000" stroke-width="1.8" stroke-linecap="butt"/>
<rect x="1606.25" y="1319.2" width="14" height="14" fill="#000000"/>
<text x="1643.5" y="1335.2" font-size="24.4">WT&#160; PEI</text>
<line x1="1594.3" y1="1357.7" x2="1632.2" y2="1357.7" stroke="#0433FF" stroke-width="1.8" stroke-linecap="butt"/>
<rect x="1606.25" y="1350.7" width="14" height="14" fill="#0433FF"/>
<text x="1643.5" y="1366.7" font-size="24.4">WT&#160; Poly(I:C)-PEI</text>
<line x1="1594.3" y1="1389.5" x2="1632.2" y2="1389.5" stroke="#AAAAAA" stroke-width="1.8" stroke-linecap="butt"/>
<rect x="1606.25" y="1382.5" width="14" height="14" fill="#AAAAAA"/>
<text x="1643.5" y="1398.5" font-size="24.4">MDA5 -/- PEI</text>
<line x1="1594.3" y1="1421.6" x2="1632.2" y2="1421.6" stroke="#941751" stroke-width="1.8" stroke-linecap="butt"/>
<rect x="1606.25" y="1414.6" width="14" height="14" fill="#941751"/>
<text x="1643.5" y="1430.6" font-size="24.4">MDA5 -/- Poly(I:C)-PEI</text>
<text x="1775.8" y="1759.4" font-size="28.1" text-anchor="middle">Days post treatment</text>
<text x="1494.2" y="1508.2" font-size="31" text-anchor="middle" transform="rotate(-90 1494.2 1508.2)">Tumor volume (mm³)</text>
<text x="1967" y="1635" font-size="29" stroke="#000" stroke-width="0.7">#</text>
<rect x="1293.7" y="796" width="35.6" height="70.9" fill="#ECECF6"/>
<rect x="1329" y="796" width="35.6" height="70.9" fill="#D3D4EB"/>
<rect x="1364.3" y="796" width="34.9" height="70.9" fill="#9A9CD0"/>
<rect x="1398.9" y="796" width="35.3" height="70.9" fill="#031791"/>
<rect x="1293.7" y="866.6" width="35.6" height="71.4" fill="#F3F3F9"/>
<rect x="1329" y="866.6" width="35.6" height="71.4" fill="#E8E8F4"/>
<rect x="1364.3" y="866.6" width="34.9" height="71.4" fill="#C8C9E6"/>
<rect x="1398.9" y="866.6" width="35.3" height="71.4" fill="#7073BB"/>
<rect x="1293.7" y="937.7" width="35.6" height="71.4" fill="#FFFFFF"/>
<rect x="1329" y="937.7" width="35.6" height="71.4" fill="#FAFAFD"/>
<rect x="1364.3" y="937.7" width="34.9" height="71.4" fill="#EDEDF7"/>
<rect x="1398.9" y="937.7" width="35.3" height="71.4" fill="#C6C7E5"/>
<rect x="1293.7" y="1008.8" width="35.6" height="71.8" fill="#F9F9FC"/>
<rect x="1329" y="1008.8" width="35.6" height="71.8" fill="#F1F1F8"/>
<rect x="1364.3" y="1008.8" width="34.9" height="71.8" fill="#C5C6E5"/>
<rect x="1398.9" y="1008.8" width="35.3" height="71.8" fill="#BEBFE2"/>
<rect x="1293.7" y="796" width="140.2" height="284.3" fill="none" stroke="#333" stroke-width="1.3"/>
<text x="1281.5" y="839.6" font-size="24.6" text-anchor="end">CD8</text>
<text x="1281.5" y="911.4" font-size="24.6" text-anchor="end">CD4</text>
<text x="1281.5" y="978.6" font-size="24.6" text-anchor="end">Non-Treg CD4</text>
<text x="1281.5" y="1048.6" font-size="24.6" text-anchor="end">Treg</text>
<text x="1320.5" y="1090.5" font-size="24.2" text-anchor="end" transform="rotate(-90 1320.5 1090.5)">PBS</text>
<text x="1356" y="1090.5" font-size="24.2" text-anchor="end" transform="rotate(-90 1356 1090.5)">IFN<tspan font-family="'Liberation Serif', 'Times New Roman', serif" font-size="1.12em">α</tspan></text>
<text x="1391.3" y="1090.5" font-size="24.2" text-anchor="end" transform="rotate(-90 1391.3 1090.5)">LPS</text>
<text x="1427" y="1090.5" font-size="24.2" text-anchor="end" transform="rotate(-90 1427 1090.5)">LPS+IFN<tspan font-family="'Liberation Serif', 'Times New Roman', serif" font-size="1.12em">α</tspan></text>
<text x="1381.5" y="852.36" font-size="38" text-anchor="middle" fill="#fff" stroke="#fff" stroke-width="0.9" stroke-linejoin="round">*</text>
<text x="1416.5" y="852.36" font-size="38" text-anchor="middle" fill="#fff" stroke="#fff" stroke-width="0.9" stroke-linejoin="round">*</text>
<text x="1416.5" y="923.16" font-size="38" text-anchor="middle" fill="#fff" stroke="#fff" stroke-width="0.9" stroke-linejoin="round">*</text>
<text x="1416.3" y="991.96" font-size="38" text-anchor="middle" fill="#fff" stroke="#fff" stroke-width="0.9" stroke-linejoin="round">*</text>
<text x="1381.6" y="1066.76" font-size="38" text-anchor="middle" fill="#fff" stroke="#fff" stroke-width="0.9" stroke-linejoin="round">*</text>
<text x="1416.3" y="1062.76" font-size="38" text-anchor="middle" fill="#fff" stroke="#fff" stroke-width="0.9" stroke-linejoin="round">*</text>
<defs><linearGradient id="gE" x1="0" y1="0" x2="1" y2="0"><stop offset="0" stop-color="#ffffff"/><stop offset="1" stop-color="#001791"/></linearGradient><linearGradient id="gF" x1="0" y1="1" x2="0" y2="0"><stop offset="0" stop-color="#ffffff"/><stop offset="1" stop-color="#001791"/></linearGradient></defs>
<rect x="1308.9" y="744.4" width="107.9" height="22.2" fill="url(#gE)" stroke="#222" stroke-width="1.3"/>
<line x1="1345.4" y1="744.4" x2="1345.4" y2="748" stroke="#222" stroke-width="1.3"/>
<line x1="1345.4" y1="763" x2="1345.4" y2="766.6" stroke="#222" stroke-width="1.3"/>
<line x1="1382.4" y1="744.4" x2="1382.4" y2="748" stroke="#222" stroke-width="1.3"/>
<line x1="1382.4" y1="763" x2="1382.4" y2="766.6" stroke="#222" stroke-width="1.3"/>
<text x="1308.9" y="786" font-size="17.8" text-anchor="middle">0</text>
<text x="1344.6" y="786" font-size="17.8" text-anchor="middle">1</text>
<text x="1381.5" y="786" font-size="17.8" text-anchor="middle">2</text>
<text x="1357" y="735" font-size="21" text-anchor="middle">% live</text>
<line x1="1560.4" y1="759.52" x2="1560.4" y2="929.67" stroke="#000" stroke-width="1.75"/>
<line x1="1549.9" y1="928.8" x2="1560.4" y2="928.8" stroke="#000" stroke-width="1.75"/>
<text x="1549.06" y="936.29" font-size="20.8" text-anchor="end">0</text>
<line x1="1549.9" y1="886.7" x2="1560.4" y2="886.7" stroke="#000" stroke-width="1.75"/>
<text x="1549.06" y="894.19" font-size="20.8" text-anchor="end">5</text>
<line x1="1549.9" y1="844.6" x2="1560.4" y2="844.6" stroke="#000" stroke-width="1.75"/>
<text x="1549.06" y="852.09" font-size="20.8" text-anchor="end">10</text>
<line x1="1549.9" y1="802.5" x2="1560.4" y2="802.5" stroke="#000" stroke-width="1.75"/>
<text x="1549.06" y="809.99" font-size="20.8" text-anchor="end">15</text>
<line x1="1549.9" y1="760.4" x2="1560.4" y2="760.4" stroke="#000" stroke-width="1.75"/>
<text x="1549.06" y="767.89" font-size="20.8" text-anchor="end">20</text>
<line x1="1549.5" y1="928.8" x2="1829.5" y2="928.8" stroke="#000" stroke-width="1.75"/>
<line x1="1627.7" y1="928.8" x2="1627.7" y2="939.4" stroke="#000" stroke-width="1.75"/>
<line x1="1761.9" y1="928.8" x2="1761.9" y2="939.4" stroke="#000" stroke-width="1.75"/>
<rect x="1571.12" y="915.02" width="24.55" height="12.9" fill="#A9A9A9" stroke="#000" stroke-width="1.45"/>
<rect x="1600.42" y="916.93" width="24.85" height="11" fill="#88CCFF" stroke="#000" stroke-width="1.45"/>
<rect x="1630.42" y="917.93" width="24.15" height="10" fill="#FF9580" stroke="#000" stroke-width="1.45"/>
<rect x="1659.52" y="920.83" width="24.65" height="7.1" fill="#7DA7CE" stroke="#000" stroke-width="1.45"/>
<rect x="1706.22" y="925.62" width="24.05" height="2.3" fill="#A9A9A9" stroke="#000" stroke-width="1.45"/>
<rect x="1735.22" y="908.23" width="24.25" height="19.7" fill="#88CCFF" stroke="#000" stroke-width="1.45"/>
<rect x="1764.52" y="819.83" width="24.25" height="108.1" fill="#FF9580" stroke="#000" stroke-width="1.45"/>
<rect x="1794.42" y="822.33" width="24.25" height="105.6" fill="#7DA7CE" stroke="#000" stroke-width="1.45"/>
<circle cx="1583.5" cy="898.8" r="3.9" fill="#000"/>
<circle cx="1583.5" cy="915.3" r="3.9" fill="#000"/>
<circle cx="1583.5" cy="926.8" r="3.9" fill="#000"/>
<circle cx="1601.3" cy="906.6" r="3.9" fill="#000"/>
<circle cx="1612.9" cy="909.5" r="3.9" fill="#000"/>
<circle cx="1601.3" cy="919.1" r="3.9" fill="#000"/>
<circle cx="1612.9" cy="919.1" r="3.9" fill="#000"/>
<circle cx="1623.5" cy="919.1" r="3.9" fill="#000"/>
<circle cx="1642.4" cy="907.5" r="3.9" fill="#000"/>
<circle cx="1636.4" cy="914.3" r="3.9" fill="#000"/>
<circle cx="1648.6" cy="919.1" r="3.9" fill="#000"/>
<circle cx="1636.4" cy="923" r="3.9" fill="#000"/>
<circle cx="1671.7" cy="911.4" r="3.9" fill="#000"/>
<circle cx="1666" cy="925.9" r="3.9" fill="#000"/>
<circle cx="1678.1" cy="923" r="3.9" fill="#000"/>
<circle cx="1718.5" cy="917.2" r="3.9" fill="#000"/>
<circle cx="1712.7" cy="928.8" r="3.9" fill="#000"/>
<circle cx="1724.4" cy="925.9" r="3.9" fill="#000"/>
<circle cx="1747.4" cy="891.1" r="3.9" fill="#000"/>
<circle cx="1747.4" cy="900.8" r="3.9" fill="#000"/>
<circle cx="1740.3" cy="908.5" r="3.9" fill="#000"/>
<circle cx="1753.8" cy="909.5" r="3.9" fill="#000"/>
<circle cx="1747.4" cy="922" r="3.9" fill="#000"/>
<circle cx="1769.8" cy="795.6" r="3.9" fill="#000"/>
<circle cx="1782.4" cy="790.2" r="3.9" fill="#000"/>
<circle cx="1777" cy="802.9" r="3.9" fill="#000"/>
<circle cx="1777" cy="883.4" r="3.9" fill="#000"/>
<circle cx="1806.3" cy="776.3" r="3.9" fill="#000"/>
<circle cx="1806.3" cy="828" r="3.9" fill="#000"/>
<circle cx="1806.3" cy="861.2" r="3.9" fill="#000"/>
<line x1="1583.5" y1="905.7" x2="1583.5" y2="921" stroke="#000" stroke-width="2"/>
<line x1="1576.5" y1="905.7" x2="1590.5" y2="905.7" stroke="#000" stroke-width="2"/>
<line x1="1576.5" y1="921" x2="1590.5" y2="921" stroke="#000" stroke-width="2"/>
<line x1="1612.9" y1="912.6" x2="1612.9" y2="919.5" stroke="#000" stroke-width="2"/>
<line x1="1605.9" y1="912.6" x2="1619.9" y2="912.6" stroke="#000" stroke-width="2"/>
<line x1="1605.9" y1="919.5" x2="1619.9" y2="919.5" stroke="#000" stroke-width="2"/>
<line x1="1642.4" y1="913.4" x2="1642.4" y2="921" stroke="#000" stroke-width="2"/>
<line x1="1635.4" y1="913.4" x2="1649.4" y2="913.4" stroke="#000" stroke-width="2"/>
<line x1="1635.4" y1="921" x2="1649.4" y2="921" stroke="#000" stroke-width="2"/>
<line x1="1671.7" y1="915.5" x2="1671.7" y2="924" stroke="#000" stroke-width="2"/>
<line x1="1664.7" y1="915.5" x2="1678.7" y2="915.5" stroke="#000" stroke-width="2"/>
<line x1="1664.7" y1="924" x2="1678.7" y2="924" stroke="#000" stroke-width="2"/>
<line x1="1718.5" y1="920.5" x2="1718.5" y2="928" stroke="#000" stroke-width="2"/>
<line x1="1711.5" y1="920.5" x2="1725.5" y2="920.5" stroke="#000" stroke-width="2"/>
<line x1="1711.5" y1="928" x2="1725.5" y2="928" stroke="#000" stroke-width="2"/>
<line x1="1747.4" y1="901.5" x2="1747.4" y2="913" stroke="#000" stroke-width="2"/>
<line x1="1740.4" y1="901.5" x2="1754.4" y2="901.5" stroke="#000" stroke-width="2"/>
<line x1="1740.4" y1="913" x2="1754.4" y2="913" stroke="#000" stroke-width="2"/>
<line x1="1777" y1="796" x2="1777" y2="840.3" stroke="#000" stroke-width="2"/>
<line x1="1770" y1="796" x2="1784" y2="796" stroke="#000" stroke-width="2"/>
<line x1="1770" y1="840.3" x2="1784" y2="840.3" stroke="#000" stroke-width="2"/>
<line x1="1806.3" y1="796" x2="1806.3" y2="846.1" stroke="#000" stroke-width="2"/>
<line x1="1799.3" y1="796" x2="1813.3" y2="796" stroke="#000" stroke-width="2"/>
<line x1="1799.3" y1="846.1" x2="1813.3" y2="846.1" stroke="#000" stroke-width="2"/>
<text x="1777" y="778.98" font-size="34" text-anchor="middle" fill="#000" stroke="#000" stroke-width="0.9" stroke-linejoin="round">*</text>
<text x="1806.3" y="778.98" font-size="34" text-anchor="middle" fill="#000" stroke="#000" stroke-width="0.9" stroke-linejoin="round">*</text>
<text x="1696.8" y="735.7" font-size="31.9" text-anchor="middle" font-weight="bold">%non-Treg CD4</text>
<line x1="1560.4" y1="1005.73" x2="1560.4" y2="1171.58" stroke="#000" stroke-width="1.75"/>
<line x1="1549.9" y1="1170.7" x2="1560.4" y2="1170.7" stroke="#000" stroke-width="1.75"/>
<text x="1549.06" y="1178.19" font-size="20.8" text-anchor="end">0</text>
<line x1="1549.9" y1="1129.68" x2="1560.4" y2="1129.68" stroke="#000" stroke-width="1.75"/>
<text x="1549.06" y="1137.17" font-size="20.8" text-anchor="end">20</text>
<line x1="1549.9" y1="1088.66" x2="1560.4" y2="1088.66" stroke="#000" stroke-width="1.75"/>
<text x="1549.06" y="1096.15" font-size="20.8" text-anchor="end">40</text>
<line x1="1549.9" y1="1047.64" x2="1560.4" y2="1047.64" stroke="#000" stroke-width="1.75"/>
<text x="1549.06" y="1055.13" font-size="20.8" text-anchor="end">60</text>
<line x1="1549.9" y1="1006.62" x2="1560.4" y2="1006.62" stroke="#000" stroke-width="1.75"/>
<text x="1549.06" y="1014.11" font-size="20.8" text-anchor="end">80</text>
<line x1="1549.5" y1="1170.7" x2="1826.8" y2="1170.7" stroke="#000" stroke-width="1.75"/>
<line x1="1627.7" y1="1170.7" x2="1627.7" y2="1179" stroke="#000" stroke-width="1.75"/>
<line x1="1761.5" y1="1170.7" x2="1761.5" y2="1179" stroke="#000" stroke-width="1.75"/>
<rect x="1571.12" y="1089.02" width="23.65" height="80.8" fill="#A9A9A9" stroke="#000" stroke-width="1.45"/>
<rect x="1601.02" y="1064.82" width="23.65" height="105" fill="#88CCFF" stroke="#000" stroke-width="1.45"/>
<rect x="1630.02" y="1085.92" width="23.05" height="83.9" fill="#FF9580" stroke="#000" stroke-width="1.45"/>
<rect x="1658.92" y="1080.12" width="23.65" height="89.7" fill="#7DA7CE" stroke="#000" stroke-width="1.45"/>
<rect x="1705.72" y="1170.02" width="23.55" height="-0.2" fill="#A9A9A9" stroke="#000" stroke-width="1.45"/>
<rect x="1735.62" y="1155.92" width="23.25" height="13.9" fill="#88CCFF" stroke="#000" stroke-width="1.45"/>
<rect x="1765.12" y="1128.32" width="22.65" height="41.5" fill="#FF9580" stroke="#000" stroke-width="1.45"/>
<rect x="1794.12" y="1117.72" width="23.65" height="52.1" fill="#7DA7CE" stroke="#000" stroke-width="1.45"/>
<circle cx="1577.1" cy="1081.5" r="3.9" fill="#000"/>
<circle cx="1588.7" cy="1083.8" r="3.9" fill="#000"/>
<circle cx="1582.9" cy="1098.3" r="3.9" fill="#000"/>
<circle cx="1612.3" cy="1045.8" r="3.9" fill="#000"/>
<circle cx="1612.3" cy="1052" r="3.9" fill="#000"/>
<circle cx="1612.3" cy="1062.6" r="3.9" fill="#000"/>
<circle cx="1612.3" cy="1072.2" r="3.9" fill="#000"/>
<circle cx="1612.3" cy="1082.5" r="3.9" fill="#000"/>
<circle cx="1641.4" cy="1073.2" r="3.9" fill="#000"/>
<circle cx="1635.6" cy="1083.8" r="3.9" fill="#000"/>
<circle cx="1647.2" cy="1086.1" r="3.9" fill="#000"/>
<circle cx="1641.4" cy="1094.1" r="3.9" fill="#000"/>
<circle cx="1670.8" cy="1067.4" r="3.9" fill="#000"/>
<circle cx="1670.8" cy="1078" r="3.9" fill="#000"/>
<circle cx="1670.8" cy="1090.2" r="3.9" fill="#000"/>
<circle cx="1708.4" cy="1170.3" r="3.9" fill="#000"/>
<circle cx="1718.5" cy="1168.8" r="3.9" fill="#000"/>
<circle cx="1728.3" cy="1170.3" r="3.9" fill="#000"/>
<circle cx="1747" cy="1120.1" r="3.9" fill="#000"/>
<circle cx="1751.9" cy="1156.2" r="3.9" fill="#000"/>
<circle cx="1741.2" cy="1161.6" r="3.9" fill="#000"/>
<circle cx="1751.9" cy="1163.9" r="3.9" fill="#000"/>
<circle cx="1741.2" cy="1169.3" r="3.9" fill="#000"/>
<circle cx="1776.6" cy="1107.6" r="3.9" fill="#000"/>
<circle cx="1776.6" cy="1122.4" r="3.9" fill="#000"/>
<circle cx="1776.6" cy="1134" r="3.9" fill="#000"/>
<circle cx="1776.6" cy="1145" r="3.9" fill="#000"/>
<circle cx="1805.9" cy="1096.4" r="3.9" fill="#000"/>
<circle cx="1805.9" cy="1111.4" r="3.9" fill="#000"/>
<circle cx="1805.9" cy="1140.8" r="3.9" fill="#000"/>
<line x1="1583" y1="1083.4" x2="1583" y2="1093.1" stroke="#000" stroke-width="2"/>
<line x1="1576" y1="1083.4" x2="1590" y2="1083.4" stroke="#000" stroke-width="2"/>
<line x1="1576" y1="1093.1" x2="1590" y2="1093.1" stroke="#000" stroke-width="2"/>
<line x1="1612.3" y1="1056.8" x2="1612.3" y2="1069.9" stroke="#000" stroke-width="2"/>
<line x1="1605.3" y1="1056.8" x2="1619.3" y2="1056.8" stroke="#000" stroke-width="2"/>
<line x1="1605.3" y1="1069.9" x2="1619.3" y2="1069.9" stroke="#000" stroke-width="2"/>
<line x1="1641.4" y1="1080.3" x2="1641.4" y2="1089.2" stroke="#000" stroke-width="2"/>
<line x1="1634.4" y1="1080.3" x2="1648.4" y2="1080.3" stroke="#000" stroke-width="2"/>
<line x1="1634.4" y1="1089.2" x2="1648.4" y2="1089.2" stroke="#000" stroke-width="2"/>
<line x1="1670.8" y1="1072.6" x2="1670.8" y2="1085.2" stroke="#000" stroke-width="2"/>
<line x1="1663.8" y1="1072.6" x2="1677.8" y2="1072.6" stroke="#000" stroke-width="2"/>
<line x1="1663.8" y1="1085.2" x2="1677.8" y2="1085.2" stroke="#000" stroke-width="2"/>
<line x1="1747" y1="1145.6" x2="1747" y2="1165" stroke="#000" stroke-width="2"/>
<line x1="1740" y1="1145.6" x2="1754" y2="1145.6" stroke="#000" stroke-width="2"/>
<line x1="1740" y1="1165" x2="1754" y2="1165" stroke="#000" stroke-width="2"/>
<line x1="1776.6" y1="1119" x2="1776.6" y2="1135.4" stroke="#000" stroke-width="2"/>
<line x1="1769.6" y1="1119" x2="1783.6" y2="1119" stroke="#000" stroke-width="2"/>
<line x1="1769.6" y1="1135.4" x2="1783.6" y2="1135.4" stroke="#000" stroke-width="2"/>
<line x1="1805.9" y1="1103.7" x2="1805.9" y2="1129.2" stroke="#000" stroke-width="2"/>
<line x1="1798.9" y1="1103.7" x2="1812.9" y2="1103.7" stroke="#000" stroke-width="2"/>
<line x1="1798.9" y1="1129.2" x2="1812.9" y2="1129.2" stroke="#000" stroke-width="2"/>
<text x="1612.3" y="1042.08" font-size="34" text-anchor="middle" fill="#000" stroke="#000" stroke-width="0.9" stroke-linejoin="round">*</text>
<text x="1746.6" y="1112.58" font-size="34" text-anchor="middle" fill="#000" stroke="#000" stroke-width="0.9" stroke-linejoin="round">*</text>
<text x="1775.6" y="1096.08" font-size="34" text-anchor="middle" fill="#000" stroke="#000" stroke-width="0.9" stroke-linejoin="round">*</text>
<text x="1805.9" y="1073.98" font-size="34" text-anchor="middle" fill="#000" stroke="#000" stroke-width="0.9" stroke-linejoin="round">*</text>
<text x="1696.8" y="991.7" font-size="30.7" text-anchor="middle" font-weight="bold">%CD8</text>
<text x="1626.6" y="1202.5" font-size="28.2" text-anchor="middle">GzmB</text>
<text x="1762" y="1202.5" font-size="28.2" text-anchor="middle">T-bet</text>
<rect x="1851.9" y="919.1" width="22.1" height="11.8" fill="#A9A9A9" stroke="#222" stroke-width="1.4"/>
<text x="1885" y="932.4" font-size="24">PBS</text>
<rect x="1851.9" y="947.5" width="22.1" height="11.4" fill="#88CCFF" stroke="#222" stroke-width="1.4"/>
<text x="1885" y="960.4" font-size="24">IFN<tspan font-family="'Liberation Serif', 'Times New Roman', serif" font-size="1.12em">α</tspan></text>
<rect x="1851.9" y="976" width="22.1" height="11.5" fill="#FF9580" stroke="#222" stroke-width="1.4"/>
<text x="1885" y="989" font-size="24">LPS</text>
<rect x="1851.9" y="1005.8" width="22.1" height="11.7" fill="#7DA7CE" stroke="#222" stroke-width="1.4"/>
<text x="1885" y="1019" font-size="24">LPS+IFN<tspan font-family="'Liberation Serif', 'Times New Roman', serif" font-size="1.12em">α</tspan></text>
<rect x="185" y="1394.6" width="60.9" height="60.9" fill="#FFFFFF"/>
<rect x="245.6" y="1394.6" width="61.1" height="60.9" fill="#FFFFFF"/>
<rect x="306.4" y="1394.6" width="60.9" height="60.9" fill="#FFFFFF"/>
<rect x="367" y="1394.6" width="61.2" height="60.9" fill="#FFFFFF"/>
<rect x="427.9" y="1394.6" width="60.9" height="60.9" fill="#FFFFFF"/>
<rect x="488.5" y="1394.6" width="61.4" height="60.9" fill="#FFFFFF"/>
<rect x="185" y="1455.2" width="60.9" height="61" fill="#E0E1F1"/>
<rect x="245.6" y="1455.2" width="61.1" height="61" fill="#B1B3DB"/>
<rect x="306.4" y="1455.2" width="60.9" height="61" fill="#5357AF"/>
<rect x="367" y="1455.2" width="61.2" height="61" fill="#A0A2D3"/>
<rect x="427.9" y="1455.2" width="60.9" height="61" fill="#3A41A5"/>
<rect x="488.5" y="1455.2" width="61.4" height="61" fill="#FFFFFF"/>
<rect x="185" y="1515.9" width="60.9" height="60.9" fill="#011891"/>
<rect x="245.6" y="1515.9" width="61.1" height="60.9" fill="#011791"/>
<rect x="306.4" y="1515.9" width="60.9" height="60.9" fill="#13209B"/>
<rect x="367" y="1515.9" width="61.2" height="60.9" fill="#8D90C8"/>
<rect x="427.9" y="1515.9" width="60.9" height="60.9" fill="#1524A0"/>
<rect x="488.5" y="1515.9" width="61.4" height="60.9" fill="#FFFFFF"/>
<rect x="185" y="1576.5" width="60.9" height="61.3" fill="#FFFFFF"/>
<rect x="245.6" y="1576.5" width="61.1" height="61.3" fill="#F7F7FB"/>
<rect x="306.4" y="1576.5" width="60.9" height="61.3" fill="#CACBE7"/>
<rect x="367" y="1576.5" width="61.2" height="61.3" fill="#121D99"/>
<rect x="427.9" y="1576.5" width="60.9" height="61.3" fill="#434AAA"/>
<rect x="488.5" y="1576.5" width="61.4" height="61.3" fill="#434AA9"/>
<rect x="185" y="1394.6" width="364.6" height="242.9" fill="none" stroke="#222" stroke-width="1.6"/>
<text x="366" y="1387.5" font-size="32" text-anchor="middle" font-weight="bold">PEC</text>
<text x="177.5" y="1441.2" font-size="23.4" text-anchor="end">Mock</text>
<text x="177.5" y="1494.3" font-size="23.4" text-anchor="end">Poly (I:C)</text>
<text x="177.5" y="1553.8" font-size="23.4" text-anchor="end">Poly (I:C)-Tfx</text>
<text x="177.5" y="1611.7" font-size="23.4" text-anchor="end">LPS</text>
<text x="225.3" y="1653.5" font-size="22.5" text-anchor="end" transform="rotate(-45 225.3 1653.5)">IFN<tspan font-family="'Liberation Serif', 'Times New Roman', serif" font-size="1.12em">α</tspan></text>
<text x="286" y="1653.5" font-size="22.5" text-anchor="end" transform="rotate(-45 286 1653.5)">IFN<tspan font-family="'Liberation Serif', 'Times New Roman', serif" font-size="1.05em">β</tspan></text>
<text x="346.7" y="1653.5" font-size="22.5" text-anchor="end" transform="rotate(-45 346.7 1653.5)">CXCL10</text>
<text x="407.45" y="1653.5" font-size="22.5" text-anchor="end" transform="rotate(-45 407.45 1653.5)">TNF</text>
<text x="468.2" y="1653.5" font-size="22.5" text-anchor="end" transform="rotate(-45 468.2 1653.5)">IL-6</text>
<text x="529.05" y="1653.5" font-size="22.5" text-anchor="end" transform="rotate(-45 529.05 1653.5)">IL-10</text>
<rect x="564.2" y="1394.3" width="16.3" height="243.2" fill="url(#gF)" stroke="#222" stroke-width="1.5"/>
<text x="585" y="1645.4" font-size="24">0</text>
<line x1="564.2" y1="1588.6" x2="568.5" y2="1588.6" stroke="#222" stroke-width="1.5"/>
<line x1="576.2" y1="1588.6" x2="580.5" y2="1588.6" stroke="#222" stroke-width="1.5"/>
<text x="585" y="1597.2" font-size="24">20</text>
<line x1="564.2" y1="1540" x2="568.5" y2="1540" stroke="#222" stroke-width="1.5"/>
<line x1="576.2" y1="1540" x2="580.5" y2="1540" stroke="#222" stroke-width="1.5"/>
<text x="585" y="1548.6" font-size="24">40</text>
<line x1="564.2" y1="1491.1" x2="568.5" y2="1491.1" stroke="#222" stroke-width="1.5"/>
<line x1="576.2" y1="1491.1" x2="580.5" y2="1491.1" stroke="#222" stroke-width="1.5"/>
<text x="585" y="1499.7" font-size="24">60</text>
<line x1="564.2" y1="1442.2" x2="568.5" y2="1442.2" stroke="#222" stroke-width="1.5"/>
<line x1="576.2" y1="1442.2" x2="580.5" y2="1442.2" stroke="#222" stroke-width="1.5"/>
<text x="585" y="1450.8" font-size="24">80</text>
<line x1="249.8" y1="1851.53" x2="249.8" y2="2102.88" stroke="#000" stroke-width="1.75"/>
<line x1="236.3" y1="2102" x2="249.8" y2="2102" stroke="#000" stroke-width="1.75"/>
<text x="235.28" y="2112.8" font-size="30" text-anchor="end">0</text>
<line x1="236.3" y1="2018.8" x2="249.8" y2="2018.8" stroke="#000" stroke-width="1.75"/>
<text x="235.28" y="2029.6" font-size="30" text-anchor="end">10</text>
<line x1="236.3" y1="1935.6" x2="249.8" y2="1935.6" stroke="#000" stroke-width="1.75"/>
<text x="235.28" y="1946.4" font-size="30" text-anchor="end">20</text>
<line x1="236.3" y1="1852.4" x2="249.8" y2="1852.4" stroke="#000" stroke-width="1.75"/>
<text x="235.28" y="1863.2" font-size="30" text-anchor="end">30</text>
<line x1="236.3" y1="2102" x2="496" y2="2102" stroke="#000" stroke-width="1.75"/>
<rect x="269.62" y="1993.32" width="35.25" height="107.8" fill="#C8C8C8" stroke="#000" stroke-width="1.45"/>
<rect x="326.43" y="1928.22" width="35.25" height="172.9" fill="#C8C8C8" stroke="#000" stroke-width="1.45"/>
<rect x="383.53" y="2009.12" width="35.25" height="92" fill="#C8C8C8" stroke="#000" stroke-width="1.45"/>
<rect x="440.93" y="1948.32" width="35.25" height="152.8" fill="#C8C8C8" stroke="#000" stroke-width="1.45"/>
<circle cx="286.9" cy="1897.2" r="4.7" fill="#000000"/>
<circle cx="286.9" cy="1949.4" r="4.7" fill="#000000"/>
<circle cx="278.8" cy="1964.5" r="4.7" fill="#000000"/>
<circle cx="294.1" cy="1964.5" r="4.7" fill="#000000"/>
<circle cx="286.9" cy="1979.7" r="4.7" fill="#000000"/>
<circle cx="286.9" cy="1999.3" r="4.7" fill="#000000"/>
<circle cx="272.9" cy="2018.6" r="4.7" fill="#000000"/>
<circle cx="286.9" cy="2022.6" r="4.7" fill="#000000"/>
<circle cx="300.8" cy="2021.3" r="4.7" fill="#000000"/>
<circle cx="286.9" cy="2096.4" r="4.7" fill="#000000"/>
<circle cx="344" cy="1893.1" r="4.7" fill="#0433FF"/>
<circle cx="339.1" cy="1906.8" r="4.7" fill="#0433FF"/>
<circle cx="330.3" cy="1916.7" r="4.7" fill="#0433FF"/>
<circle cx="357.9" cy="1912.7" r="4.7" fill="#0433FF"/>
<circle cx="339.1" cy="1918.1" r="4.7" fill="#0433FF"/>
<circle cx="348.5" cy="1918.1" r="4.7" fill="#0433FF"/>
<circle cx="344" cy="1936" r="4.7" fill="#0433FF"/>
<circle cx="339.1" cy="1948.4" r="4.7" fill="#0433FF"/>
<circle cx="348.5" cy="1951" r="4.7" fill="#0433FF"/>
<circle cx="344" cy="1967.7" r="4.7" fill="#0433FF"/>
<circle cx="387.4" cy="1964.5" r="4.7" fill="#FF9300"/>
<circle cx="415.5" cy="1956.1" r="4.7" fill="#FF9300"/>
<circle cx="401.3" cy="1980.5" r="4.7" fill="#FF9300"/>
<circle cx="387.4" cy="1995.8" r="4.7" fill="#FF9300"/>
<circle cx="415.5" cy="2002.5" r="4.7" fill="#FF9300"/>
<circle cx="387.4" cy="2013.8" r="4.7" fill="#FF9300"/>
<circle cx="415.5" cy="2021.3" r="4.7" fill="#FF9300"/>
<circle cx="401.3" cy="2031.5" r="4.7" fill="#FF9300"/>
<circle cx="401.3" cy="2045.4" r="4.7" fill="#FF9300"/>
<circle cx="401.3" cy="2068.2" r="4.7" fill="#FF9300"/>
<circle cx="459" cy="1871.7" r="4.7" fill="#941751"/>
<circle cx="459" cy="1913.5" r="4.7" fill="#941751"/>
<circle cx="444.2" cy="1932.8" r="4.7" fill="#941751"/>
<circle cx="473.2" cy="1933.4" r="4.7" fill="#941751"/>
<circle cx="459" cy="1946.8" r="4.7" fill="#941751"/>
<circle cx="459" cy="1959.1" r="4.7" fill="#941751"/>
<circle cx="459" cy="1973.6" r="4.7" fill="#941751"/>
<circle cx="459" cy="1993.9" r="4.7" fill="#941751"/>
<circle cx="459" cy="2009.8" r="4.7" fill="#941751"/>
<line x1="287.25" y1="1974.9" x2="287.25" y2="2008.7" stroke="#000" stroke-width="2"/>
<line x1="277.25" y1="1974.9" x2="297.25" y2="1974.9" stroke="#000" stroke-width="2"/>
<line x1="277.25" y1="2008.7" x2="297.25" y2="2008.7" stroke="#000" stroke-width="2"/>
<line x1="344.05" y1="1919.4" x2="344.05" y2="1934.7" stroke="#000" stroke-width="2"/>
<line x1="334.05" y1="1919.4" x2="354.05" y2="1919.4" stroke="#000" stroke-width="2"/>
<line x1="334.05" y1="1934.7" x2="354.05" y2="1934.7" stroke="#000" stroke-width="2"/>
<line x1="401.15" y1="1996.6" x2="401.15" y2="2018.6" stroke="#000" stroke-width="2"/>
<line x1="391.15" y1="1996.6" x2="411.15" y2="1996.6" stroke="#000" stroke-width="2"/>
<line x1="391.15" y1="2018.6" x2="411.15" y2="2018.6" stroke="#000" stroke-width="2"/>
<line x1="458.55" y1="1934.7" x2="458.55" y2="1959.1" stroke="#000" stroke-width="2"/>
<line x1="448.55" y1="1934.7" x2="468.55" y2="1934.7" stroke="#000" stroke-width="2"/>
<line x1="448.55" y1="1959.1" x2="468.55" y2="1959.1" stroke="#000" stroke-width="2"/>
<text x="343.2" y="1870.86" font-size="33" text-anchor="middle" fill="#000" stroke="#000" stroke-width="0.9" stroke-linejoin="round">*</text>
<text x="459" y="1867.56" font-size="33" text-anchor="middle" fill="#000" stroke="#000" stroke-width="0.9" stroke-linejoin="round">*</text>
<text x="372" y="2131.4" font-size="28.2" text-anchor="middle">GzmB</text>
<text x="179.2" y="1977" font-size="27.8" text-anchor="middle" transform="rotate(-90 179.2 1977)">%Non-Treg CD4</text>
<line x1="575" y1="1857.03" x2="575" y2="2102.88" stroke="#000" stroke-width="1.75"/>
<line x1="561.5" y1="2102" x2="575" y2="2102" stroke="#000" stroke-width="1.75"/>
<text x="559.62" y="2112.33" font-size="28.7" text-anchor="end">0</text>
<line x1="561.5" y1="2053.18" x2="575" y2="2053.18" stroke="#000" stroke-width="1.75"/>
<text x="559.62" y="2063.51" font-size="28.7" text-anchor="end">20</text>
<line x1="561.5" y1="2004.36" x2="575" y2="2004.36" stroke="#000" stroke-width="1.75"/>
<text x="559.62" y="2014.69" font-size="28.7" text-anchor="end">40</text>
<line x1="561.5" y1="1955.54" x2="575" y2="1955.54" stroke="#000" stroke-width="1.75"/>
<text x="559.62" y="1965.87" font-size="28.7" text-anchor="end">60</text>
<line x1="561.5" y1="1906.72" x2="575" y2="1906.72" stroke="#000" stroke-width="1.75"/>
<text x="559.62" y="1917.05" font-size="28.7" text-anchor="end">80</text>
<line x1="561.5" y1="1857.9" x2="575" y2="1857.9" stroke="#000" stroke-width="1.75"/>
<text x="559.62" y="1868.23" font-size="28.7" text-anchor="end">100</text>
<line x1="561.5" y1="2102" x2="818.4" y2="2102" stroke="#000" stroke-width="1.75"/>
<rect x="595.02" y="1948.02" width="34.45" height="153.1" fill="#C8C8C8" stroke="#000" stroke-width="1.45"/>
<rect x="651.23" y="1901.92" width="34.45" height="199.2" fill="#C8C8C8" stroke="#000" stroke-width="1.45"/>
<rect x="707.43" y="1946.92" width="34.45" height="154.2" fill="#C8C8C8" stroke="#000" stroke-width="1.45"/>
<rect x="763.43" y="1924.42" width="34.45" height="176.7" fill="#C8C8C8" stroke="#000" stroke-width="1.45"/>
<circle cx="612.3" cy="1908" r="4.7" fill="#000000"/>
<circle cx="598" cy="1919.8" r="4.7" fill="#000000"/>
<circle cx="612.3" cy="1917.3" r="4.7" fill="#000000"/>
<circle cx="626.5" cy="1920.5" r="4.7" fill="#000000"/>
<circle cx="605.5" cy="1926.9" r="4.7" fill="#000000"/>
<circle cx="619.4" cy="1926.5" r="4.7" fill="#000000"/>
<circle cx="612.3" cy="1948.4" r="4.7" fill="#000000"/>
<circle cx="608.7" cy="1953.3" r="4.7" fill="#000000"/>
<circle cx="615.8" cy="1949.4" r="4.7" fill="#000000"/>
<circle cx="612.3" cy="1976.9" r="4.7" fill="#000000"/>
<circle cx="612.3" cy="2071" r="4.7" fill="#000000"/>
<circle cx="654.8" cy="1874.4" r="4.7" fill="#0433FF"/>
<circle cx="682.3" cy="1882.5" r="4.7" fill="#0433FF"/>
<circle cx="654.8" cy="1887.9" r="4.7" fill="#0433FF"/>
<circle cx="682.3" cy="1894.7" r="4.7" fill="#0433FF"/>
<circle cx="654.8" cy="1903.3" r="4.7" fill="#0433FF"/>
<circle cx="668.7" cy="1900.1" r="4.7" fill="#0433FF"/>
<circle cx="682.3" cy="1909.1" r="4.7" fill="#0433FF"/>
<circle cx="668.7" cy="1911.9" r="4.7" fill="#0433FF"/>
<circle cx="654.8" cy="1921.1" r="4.7" fill="#0433FF"/>
<circle cx="682.3" cy="1919.8" r="4.7" fill="#0433FF"/>
<circle cx="724.5" cy="1886.6" r="4.7" fill="#FF9300"/>
<circle cx="724.5" cy="1911.9" r="4.7" fill="#FF9300"/>
<circle cx="715.9" cy="1939.8" r="4.7" fill="#FF9300"/>
<circle cx="738.4" cy="1940.2" r="4.7" fill="#FF9300"/>
<circle cx="710.6" cy="1945.6" r="4.7" fill="#FF9300"/>
<circle cx="733.1" cy="1945.1" r="4.7" fill="#FF9300"/>
<circle cx="721.3" cy="1949.4" r="4.7" fill="#FF9300"/>
<circle cx="729.9" cy="1940.9" r="4.7" fill="#FF9300"/>
<circle cx="724.5" cy="1992.8" r="4.7" fill="#FF9300"/>
<circle cx="724.5" cy="2004.6" r="4.7" fill="#FF9300"/>
<circle cx="773.8" cy="1878.2" r="4.7" fill="#941751"/>
<circle cx="787.8" cy="1880.4" r="4.7" fill="#941751"/>
<circle cx="780.9" cy="1908.3" r="4.7" fill="#941751"/>
<circle cx="767.4" cy="1924.8" r="4.7" fill="#941751"/>
<circle cx="794.9" cy="1920.5" r="4.7" fill="#941751"/>
<circle cx="780.9" cy="1926.9" r="4.7" fill="#941751"/>
<circle cx="794.9" cy="1931.8" r="4.7" fill="#941751"/>
<circle cx="780.9" cy="1939.8" r="4.7" fill="#941751"/>
<circle cx="773.8" cy="1962.7" r="4.7" fill="#941751"/>
<circle cx="787.8" cy="1960.2" r="4.7" fill="#941751"/>
<line x1="612.25" y1="1931.6" x2="612.25" y2="1961.9" stroke="#000" stroke-width="2"/>
<line x1="602.25" y1="1931.6" x2="622.25" y2="1931.6" stroke="#000" stroke-width="2"/>
<line x1="602.25" y1="1961.9" x2="622.25" y2="1961.9" stroke="#000" stroke-width="2"/>
<line x1="668.45" y1="1895.2" x2="668.45" y2="1904.8" stroke="#000" stroke-width="2"/>
<line x1="658.45" y1="1895.2" x2="678.45" y2="1895.2" stroke="#000" stroke-width="2"/>
<line x1="658.45" y1="1904.8" x2="678.45" y2="1904.8" stroke="#000" stroke-width="2"/>
<line x1="724.65" y1="1934.9" x2="724.65" y2="1956.3" stroke="#000" stroke-width="2"/>
<line x1="714.65" y1="1934.9" x2="734.65" y2="1934.9" stroke="#000" stroke-width="2"/>
<line x1="714.65" y1="1956.3" x2="734.65" y2="1956.3" stroke="#000" stroke-width="2"/>
<line x1="780.65" y1="1914" x2="780.65" y2="1932.3" stroke="#000" stroke-width="2"/>
<line x1="770.65" y1="1914" x2="790.65" y2="1914" stroke="#000" stroke-width="2"/>
<line x1="770.65" y1="1932.3" x2="790.65" y2="1932.3" stroke="#000" stroke-width="2"/>
<text x="668.1" y="1862.56" font-size="33" text-anchor="middle" fill="#000" stroke="#000" stroke-width="0.9" stroke-linejoin="round">*</text>
<text x="696.9" y="2131.4" font-size="28.2" text-anchor="middle">T-bet</text>
<line x1="1000.8" y1="1851.12" x2="1000.8" y2="2102.88" stroke="#000" stroke-width="1.75"/>
<line x1="987.3" y1="2102" x2="1000.8" y2="2102" stroke="#000" stroke-width="1.75"/>
<text x="985.82" y="2112.33" font-size="28.7" text-anchor="end">0</text>
<line x1="987.3" y1="2052" x2="1000.8" y2="2052" stroke="#000" stroke-width="1.75"/>
<text x="985.82" y="2062.33" font-size="28.7" text-anchor="end">20</text>
<line x1="987.3" y1="2002" x2="1000.8" y2="2002" stroke="#000" stroke-width="1.75"/>
<text x="985.82" y="2012.33" font-size="28.7" text-anchor="end">40</text>
<line x1="987.3" y1="1952" x2="1000.8" y2="1952" stroke="#000" stroke-width="1.75"/>
<text x="985.82" y="1962.33" font-size="28.7" text-anchor="end">60</text>
<line x1="987.3" y1="1902" x2="1000.8" y2="1902" stroke="#000" stroke-width="1.75"/>
<text x="985.82" y="1912.33" font-size="28.7" text-anchor="end">80</text>
<line x1="987.3" y1="1852" x2="1000.8" y2="1852" stroke="#000" stroke-width="1.75"/>
<text x="985.82" y="1862.33" font-size="28.7" text-anchor="end">100</text>
<line x1="987.3" y1="2102" x2="1247.8" y2="2102" stroke="#000" stroke-width="1.75"/>
<rect x="1020.73" y="1971.22" width="35.35" height="129.9" fill="#C8C8C8" stroke="#000" stroke-width="1.45"/>
<rect x="1078.02" y="1907.22" width="35.35" height="193.9" fill="#C8C8C8" stroke="#000" stroke-width="1.45"/>
<rect x="1135.32" y="1945.22" width="35.35" height="155.9" fill="#C8C8C8" stroke="#000" stroke-width="1.45"/>
<rect x="1192.32" y="1909.82" width="35.35" height="191.3" fill="#C8C8C8" stroke="#000" stroke-width="1.45"/>
<circle cx="1038.3" cy="1932.7" r="4.7" fill="#000000"/>
<circle cx="1052.7" cy="1932.3" r="4.7" fill="#000000"/>
<circle cx="1024.3" cy="1949.4" r="4.7" fill="#000000"/>
<circle cx="1052.7" cy="1946.9" r="4.7" fill="#000000"/>
<circle cx="1038.3" cy="1956.3" r="4.7" fill="#000000"/>
<circle cx="1024.3" cy="1962.3" r="4.7" fill="#000000"/>
<circle cx="1038.3" cy="1988" r="4.7" fill="#000000"/>
<circle cx="1052.7" cy="1997.7" r="4.7" fill="#000000"/>
<circle cx="1038.3" cy="2003.5" r="4.7" fill="#000000"/>
<circle cx="1038.3" cy="2032" r="4.7" fill="#000000"/>
<circle cx="1081.6" cy="1890" r="4.7" fill="#0433FF"/>
<circle cx="1100.3" cy="1889.4" r="4.7" fill="#0433FF"/>
<circle cx="1091.3" cy="1898.6" r="4.7" fill="#0433FF"/>
<circle cx="1109.9" cy="1901.8" r="4.7" fill="#0433FF"/>
<circle cx="1081.6" cy="1906.5" r="4.7" fill="#0433FF"/>
<circle cx="1100.3" cy="1905.5" r="4.7" fill="#0433FF"/>
<circle cx="1091.3" cy="1914" r="4.7" fill="#0433FF"/>
<circle cx="1109.9" cy="1914.7" r="4.7" fill="#0433FF"/>
<circle cx="1081.6" cy="1920.9" r="4.7" fill="#0433FF"/>
<circle cx="1100.3" cy="1917.3" r="4.7" fill="#0433FF"/>
<circle cx="1138.9" cy="1877.6" r="4.7" fill="#FF9300"/>
<circle cx="1166.8" cy="1882.3" r="4.7" fill="#FF9300"/>
<circle cx="1152.8" cy="1900.1" r="4.7" fill="#FF9300"/>
<circle cx="1152.8" cy="1925.2" r="4.7" fill="#FF9300"/>
<circle cx="1138.9" cy="1939.8" r="4.7" fill="#FF9300"/>
<circle cx="1166.8" cy="1936.1" r="4.7" fill="#FF9300"/>
<circle cx="1152.8" cy="1949.9" r="4.7" fill="#FF9300"/>
<circle cx="1138.9" cy="1998.1" r="4.7" fill="#FF9300"/>
<circle cx="1166.8" cy="2005.6" r="4.7" fill="#FF9300"/>
<circle cx="1152.8" cy="2022.8" r="4.7" fill="#FF9300"/>
<circle cx="1209.6" cy="1867.9" r="4.7" fill="#941751"/>
<circle cx="1195.7" cy="1890.9" r="4.7" fill="#941751"/>
<circle cx="1209.6" cy="1891.1" r="4.7" fill="#941751"/>
<circle cx="1223.8" cy="1887.9" r="4.7" fill="#941751"/>
<circle cx="1195.7" cy="1909.1" r="4.7" fill="#941751"/>
<circle cx="1209.6" cy="1911.5" r="4.7" fill="#941751"/>
<circle cx="1195.7" cy="1926.5" r="4.7" fill="#941751"/>
<circle cx="1209.6" cy="1928.6" r="4.7" fill="#941751"/>
<circle cx="1223.8" cy="1931.6" r="4.7" fill="#941751"/>
<circle cx="1195.7" cy="1940.9" r="4.7" fill="#941751"/>
<line x1="1038.4" y1="1959.5" x2="1038.4" y2="1981.2" stroke="#000" stroke-width="2"/>
<line x1="1028.4" y1="1959.5" x2="1048.4" y2="1959.5" stroke="#000" stroke-width="2"/>
<line x1="1028.4" y1="1981.2" x2="1048.4" y2="1981.2" stroke="#000" stroke-width="2"/>
<line x1="1095.7" y1="1902.3" x2="1095.7" y2="1909.3" stroke="#000" stroke-width="2"/>
<line x1="1085.7" y1="1902.3" x2="1105.7" y2="1902.3" stroke="#000" stroke-width="2"/>
<line x1="1085.7" y1="1909.3" x2="1105.7" y2="1909.3" stroke="#000" stroke-width="2"/>
<line x1="1153" y1="1928" x2="1153" y2="1959.7" stroke="#000" stroke-width="2"/>
<line x1="1143" y1="1928" x2="1163" y2="1928" stroke="#000" stroke-width="2"/>
<line x1="1143" y1="1959.7" x2="1163" y2="1959.7" stroke="#000" stroke-width="2"/>
<line x1="1210" y1="1901.6" x2="1210" y2="1916.2" stroke="#000" stroke-width="2"/>
<line x1="1200" y1="1901.6" x2="1220" y2="1901.6" stroke="#000" stroke-width="2"/>
<line x1="1200" y1="1916.2" x2="1220" y2="1916.2" stroke="#000" stroke-width="2"/>
<text x="1091.3" y="1870.16" font-size="33" text-anchor="middle" fill="#000" stroke="#000" stroke-width="0.9" stroke-linejoin="round">*</text>
<text x="1122" y="2131.4" font-size="28.2" text-anchor="middle">GzmB</text>
<text x="924" y="1980.5" font-size="27.4" text-anchor="middle" transform="rotate(-90 924 1980.5)">%CD8</text>
<line x1="1324.1" y1="1856.72" x2="1324.1" y2="2102.88" stroke="#000" stroke-width="1.75"/>
<line x1="1310.6" y1="2102" x2="1324.1" y2="2102" stroke="#000" stroke-width="1.75"/>
<text x="1309.52" y="2112.33" font-size="28.7" text-anchor="end">0</text>
<line x1="1310.6" y1="2053.12" x2="1324.1" y2="2053.12" stroke="#000" stroke-width="1.75"/>
<text x="1309.52" y="2063.45" font-size="28.7" text-anchor="end">20</text>
<line x1="1310.6" y1="2004.24" x2="1324.1" y2="2004.24" stroke="#000" stroke-width="1.75"/>
<text x="1309.52" y="2014.57" font-size="28.7" text-anchor="end">40</text>
<line x1="1310.6" y1="1955.36" x2="1324.1" y2="1955.36" stroke="#000" stroke-width="1.75"/>
<text x="1309.52" y="1965.69" font-size="28.7" text-anchor="end">60</text>
<line x1="1310.6" y1="1906.48" x2="1324.1" y2="1906.48" stroke="#000" stroke-width="1.75"/>
<text x="1309.52" y="1916.81" font-size="28.7" text-anchor="end">80</text>
<line x1="1310.6" y1="1857.6" x2="1324.1" y2="1857.6" stroke="#000" stroke-width="1.75"/>
<text x="1309.52" y="1867.93" font-size="28.7" text-anchor="end">100</text>
<line x1="1310.6" y1="2102" x2="1565.6" y2="2102" stroke="#000" stroke-width="1.75"/>
<rect x="1343.72" y="1979.52" width="34.35" height="121.6" fill="#C8C8C8" stroke="#000" stroke-width="1.45"/>
<rect x="1399.42" y="1936.82" width="34.35" height="164.3" fill="#C8C8C8" stroke="#000" stroke-width="1.45"/>
<rect x="1455.22" y="1975.42" width="34.35" height="125.7" fill="#C8C8C8" stroke="#000" stroke-width="1.45"/>
<rect x="1511.42" y="1963.02" width="34.35" height="138.1" fill="#C8C8C8" stroke="#000" stroke-width="1.45"/>
<circle cx="1361.2" cy="1920.5" r="4.7" fill="#000000"/>
<circle cx="1361.2" cy="1954.2" r="4.7" fill="#000000"/>
<circle cx="1361.2" cy="1964" r="4.7" fill="#000000"/>
<circle cx="1347.2" cy="1972" r="4.7" fill="#000000"/>
<circle cx="1375.1" cy="1967" r="4.7" fill="#000000"/>
<circle cx="1361.2" cy="1974.7" r="4.7" fill="#000000"/>
<circle cx="1347.2" cy="1993" r="4.7" fill="#000000"/>
<circle cx="1375.1" cy="2000.9" r="4.7" fill="#000000"/>
<circle cx="1361.2" cy="2004.1" r="4.7" fill="#000000"/>
<circle cx="1361.2" cy="2028.2" r="4.7" fill="#000000"/>
<circle cx="1403" cy="1918.3" r="4.7" fill="#0433FF"/>
<circle cx="1412.2" cy="1922.6" r="4.7" fill="#0433FF"/>
<circle cx="1421.2" cy="1920.5" r="4.7" fill="#0433FF"/>
<circle cx="1430.2" cy="1915.6" r="4.7" fill="#0433FF"/>
<circle cx="1407.3" cy="1932.3" r="4.7" fill="#0433FF"/>
<circle cx="1425.5" cy="1933.4" r="4.7" fill="#0433FF"/>
<circle cx="1416.5" cy="1931.2" r="4.7" fill="#0433FF"/>
<circle cx="1416.5" cy="1944.1" r="4.7" fill="#0433FF"/>
<circle cx="1416.5" cy="1959.1" r="4.7" fill="#0433FF"/>
<circle cx="1416.5" cy="1976.9" r="4.7" fill="#0433FF"/>
<circle cx="1472.7" cy="1919.8" r="4.7" fill="#FF9300"/>
<circle cx="1458.8" cy="1937.2" r="4.7" fill="#FF9300"/>
<circle cx="1486.6" cy="1941.3" r="4.7" fill="#FF9300"/>
<circle cx="1458.8" cy="1947.3" r="4.7" fill="#FF9300"/>
<circle cx="1458.8" cy="1961.9" r="4.7" fill="#FF9300"/>
<circle cx="1486.6" cy="1960.2" r="4.7" fill="#FF9300"/>
<circle cx="1472.7" cy="1989.1" r="4.7" fill="#FF9300"/>
<circle cx="1472.7" cy="2011" r="4.7" fill="#FF9300"/>
<circle cx="1472.7" cy="2028.2" r="4.7" fill="#FF9300"/>
<circle cx="1472.7" cy="2047.5" r="4.7" fill="#FF9300"/>
<circle cx="1514.5" cy="1908.7" r="4.7" fill="#941751"/>
<circle cx="1528.5" cy="1912.5" r="4.7" fill="#941751"/>
<circle cx="1528.5" cy="1929.7" r="4.7" fill="#941751"/>
<circle cx="1534.9" cy="1953.3" r="4.7" fill="#941751"/>
<circle cx="1521" cy="1956.9" r="4.7" fill="#941751"/>
<circle cx="1528.5" cy="1979.9" r="4.7" fill="#941751"/>
<circle cx="1514.5" cy="1982.3" r="4.7" fill="#941751"/>
<circle cx="1542.4" cy="1984.8" r="4.7" fill="#941751"/>
<circle cx="1528.5" cy="1990.6" r="4.7" fill="#941751"/>
<circle cx="1528.5" cy="2019.1" r="4.7" fill="#941751"/>
<line x1="1360.9" y1="1968.1" x2="1360.9" y2="1987.4" stroke="#000" stroke-width="2"/>
<line x1="1350.9" y1="1968.1" x2="1370.9" y2="1968.1" stroke="#000" stroke-width="2"/>
<line x1="1350.9" y1="1987.4" x2="1370.9" y2="1987.4" stroke="#000" stroke-width="2"/>
<line x1="1416.6" y1="1929.5" x2="1416.6" y2="1941.5" stroke="#000" stroke-width="2"/>
<line x1="1406.6" y1="1929.5" x2="1426.6" y2="1929.5" stroke="#000" stroke-width="2"/>
<line x1="1406.6" y1="1941.5" x2="1426.6" y2="1941.5" stroke="#000" stroke-width="2"/>
<line x1="1472.4" y1="1960.8" x2="1472.4" y2="1987.6" stroke="#000" stroke-width="2"/>
<line x1="1462.4" y1="1960.8" x2="1482.4" y2="1960.8" stroke="#000" stroke-width="2"/>
<line x1="1462.4" y1="1987.6" x2="1482.4" y2="1987.6" stroke="#000" stroke-width="2"/>
<line x1="1528.6" y1="1950.1" x2="1528.6" y2="1973.5" stroke="#000" stroke-width="2"/>
<line x1="1518.6" y1="1950.1" x2="1538.6" y2="1950.1" stroke="#000" stroke-width="2"/>
<line x1="1518.6" y1="1973.5" x2="1538.6" y2="1973.5" stroke="#000" stroke-width="2"/>
<text x="1413.3" y="1894.16" font-size="33" text-anchor="middle" fill="#000" stroke="#000" stroke-width="0.9" stroke-linejoin="round">*</text>
<text x="1446.1" y="2131.4" font-size="28.2" text-anchor="middle">T-bet</text>
<circle cx="1632.3" cy="1931.4" r="4.7" fill="#000000"/>
<text x="1648.5" y="1939.1" font-size="24.9">WT PEI</text>
<circle cx="1632.3" cy="1961.3" r="4.7" fill="#0433FF"/>
<text x="1648.5" y="1969" font-size="24.9">WT Poly(I:C)-PEI</text>
<circle cx="1632.3" cy="1990.4" r="4.7" fill="#FF9300"/>
<text x="1648.5" y="1998.1" font-size="24.9">MDA5-/- PEI</text>
<circle cx="1632.3" cy="2018.7" r="4.7" fill="#941751"/>
<text x="1648.5" y="2026.4" font-size="24.9">MDA5-/- Poly(I:C)-PEI</text>
</svg>
</body></html>
